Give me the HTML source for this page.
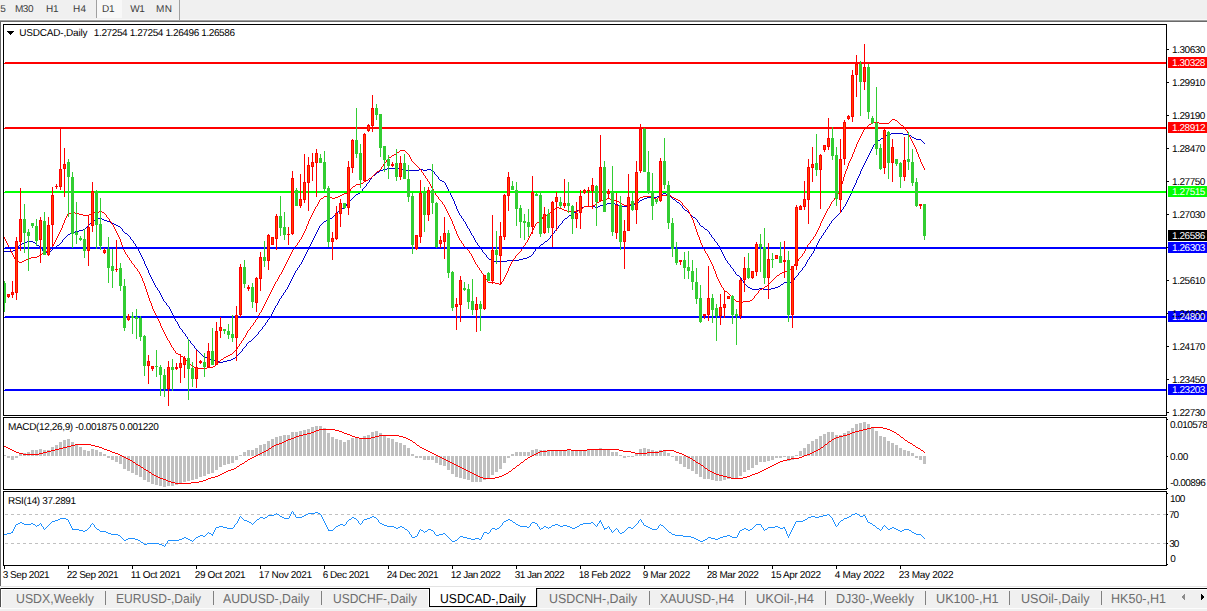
<!DOCTYPE html>
<html><head><meta charset="utf-8"><title>USDCAD-,Daily</title>
<style>
html,body{margin:0;padding:0;background:#fff;}
body{width:1207px;height:611px;position:relative;overflow:hidden;font-family:"Liberation Sans",sans-serif;text-rendering:geometricPrecision;}
.t{position:absolute;font-size:10px;line-height:12px;color:#000;white-space:pre;}
.w{color:#fff;}
.tb{position:absolute;font-size:10px;line-height:12px;color:#3c3c3c;white-space:pre;}
.tab{position:absolute;font-size:13px;line-height:15px;color:#6d6d6d;white-space:pre;}
.sep{position:absolute;top:591px;width:1px;height:14px;background:#808080;}
</style></head><body>
<div style="position:absolute;left:0;top:0;width:1207px;height:20px;background:#f0f0f0"></div>
<div style="position:absolute;left:0;top:20px;width:1207px;height:1px;background:#a0a0a0"></div>
<div style="position:absolute;left:0;top:21px;width:1207px;height:1px;background:#696969"></div>
<div style="position:absolute;left:0;top:19px;width:1207px;height:1px;background:#f8f8f8"></div>
<div style="position:absolute;left:0;top:22px;width:1px;height:564px;background:#696969"></div>
<div style="position:absolute;left:96px;top:0;width:26px;height:18px;background:#f8f8f8;border-left:1px solid #a0a0a0;box-sizing:border-box"></div>
<div style="position:absolute;left:179px;top:0;width:1px;height:20px;background:#a0a0a0"></div>
<div class="tb" style="left:0.30px;top:4px;letter-spacing:0.000px;">5</div>
<div class="tb" style="left:14.88px;top:4px;letter-spacing:-0.421px;">M30</div>
<div class="tb" style="left:45.98px;top:4px;letter-spacing:-0.275px;">H1</div>
<div class="tb" style="left:72.88px;top:4px;letter-spacing:0.430px;">H4</div>
<div class="tb" style="left:101.98px;top:4px;letter-spacing:-0.275px;">D1</div>
<div class="tb" style="left:130.16px;top:4px;letter-spacing:-0.368px;">W1</div>
<div class="tb" style="left:155.88px;top:4px;letter-spacing:0.584px;">MN</div>
<svg width="1207" height="611" viewBox="0 0 1207 611" style="position:absolute;left:0;top:0" shape-rendering="crispEdges">
<defs><clipPath id="cm"><rect x="4" y="25" width="1162" height="390"/></clipPath></defs>
<g clip-path="url(#cm)">
<path d="M4 251h1v1h-1zM5 251h1v1h-1zM6 251h1v1h-1zM7 251h1v1h-1zM8 251h1v1h-1zM9 251h1v1h-1zM10 251h1v1h-1zM11 251h1v1h-1zM12 251h1v1h-1zM13 250h1v1h-1zM14 250h1v1h-1zM15 249h1v1h-1zM16 248h1v1h-1zM17 247h1v1h-1zM18 246h1v1h-1zM19 245h1v1h-1zM20 244h1v1h-1zM21 244h1v1h-1zM22 243h1v1h-1zM23 243h1v1h-1zM24 242h1v1h-1zM25 242h1v1h-1zM26 242h1v1h-1zM27 241h1v1h-1zM28 241h1v1h-1zM29 241h1v1h-1zM30 241h1v1h-1zM31 241h1v1h-1zM32 241h1v1h-1zM33 242h1v1h-1zM34 242h1v1h-1zM35 243h1v1h-1zM36 244h1v1h-1zM37 245h1v1h-1zM38 245h1v1h-1zM39 246h1v1h-1zM40 247h1v1h-1zM41 248h1v1h-1zM42 249h1v2h-1zM43 251h1v1h-1zM44 252h1v1h-1zM45 252h1v1h-1zM46 252h1v1h-1zM47 253h1v1h-1zM48 253h1v1h-1zM49 252h1v1h-1zM50 251h1v1h-1zM51 250h1v1h-1zM52 249h1v1h-1zM53 248h1v1h-1zM54 248h1v1h-1zM55 247h1v1h-1zM56 246h1v1h-1zM57 245h1v1h-1zM58 245h1v1h-1zM59 244h1v1h-1zM60 243h1v1h-1zM61 242h1v1h-1zM62 240h1v2h-1zM63 239h1v1h-1zM64 238h1v1h-1zM65 237h1v1h-1zM66 236h1v1h-1zM67 235h1v1h-1zM68 234h1v1h-1zM69 234h1v1h-1zM70 233h1v1h-1zM71 233h1v1h-1zM72 232h1v1h-1zM73 232h1v1h-1zM74 232h1v1h-1zM75 231h1v1h-1zM76 231h1v1h-1zM77 231h1v1h-1zM78 231h1v1h-1zM79 230h1v1h-1zM80 230h1v1h-1zM81 230h1v1h-1zM82 230h1v1h-1zM83 229h1v1h-1zM84 229h1v1h-1zM85 228h1v1h-1zM86 227h1v1h-1zM87 226h1v1h-1zM88 225h1v1h-1zM89 224h1v1h-1zM90 223h1v1h-1zM91 222h1v1h-1zM92 221h1v1h-1zM93 220h1v1h-1zM94 220h1v1h-1zM95 219h1v1h-1zM96 218h1v1h-1zM97 218h1v1h-1zM98 218h1v1h-1zM99 218h1v1h-1zM100 218h1v1h-1zM101 218h1v1h-1zM102 219h1v1h-1zM103 219h1v1h-1zM104 220h1v1h-1zM105 220h1v1h-1zM106 220h1v1h-1zM107 221h1v1h-1zM108 221h1v1h-1zM109 221h1v1h-1zM110 222h1v1h-1zM111 222h1v1h-1zM112 223h1v1h-1zM113 223h1v1h-1zM114 224h1v1h-1zM115 224h1v1h-1zM116 225h1v1h-1zM117 225h1v1h-1zM118 226h1v1h-1zM119 226h1v1h-1zM120 227h1v1h-1zM121 228h1v1h-1zM122 229h1v2h-1zM123 231h1v1h-1zM124 232h1v1h-1zM125 233h1v1h-1zM126 233h1v1h-1zM127 234h1v1h-1zM128 235h1v1h-1zM129 236h1v1h-1zM130 237h1v2h-1zM131 239h1v1h-1zM132 240h1v1h-1zM133 241h1v2h-1zM134 243h1v1h-1zM135 244h1v2h-1zM136 246h1v1h-1zM137 247h1v2h-1zM138 249h1v2h-1zM139 251h1v2h-1zM140 253h1v2h-1zM141 255h1v2h-1zM142 257h1v2h-1zM143 259h1v2h-1zM144 261h1v3h-1zM145 264h1v2h-1zM146 266h1v2h-1zM147 268h1v2h-1zM148 270h1v3h-1zM149 273h1v2h-1zM150 275h1v2h-1zM151 277h1v2h-1zM152 279h1v2h-1zM153 281h1v2h-1zM154 283h1v2h-1zM155 285h1v2h-1zM156 287h1v1h-1zM157 288h1v2h-1zM158 290h1v1h-1zM159 291h1v2h-1zM160 293h1v2h-1zM161 295h1v2h-1zM162 297h1v2h-1zM163 299h1v2h-1zM164 301h1v1h-1zM165 302h1v1h-1zM166 303h1v2h-1zM167 305h1v1h-1zM168 306h1v1h-1zM169 307h1v2h-1zM170 309h1v2h-1zM171 311h1v2h-1zM172 313h1v2h-1zM173 315h1v2h-1zM174 317h1v2h-1zM175 319h1v2h-1zM176 321h1v1h-1zM177 322h1v2h-1zM178 324h1v2h-1zM179 326h1v2h-1zM180 328h1v1h-1zM181 329h1v1h-1zM182 330h1v2h-1zM183 332h1v1h-1zM184 333h1v1h-1zM185 334h1v2h-1zM186 336h1v1h-1zM187 337h1v2h-1zM188 339h1v1h-1zM189 340h1v1h-1zM190 341h1v2h-1zM191 343h1v1h-1zM192 344h1v1h-1zM193 345h1v1h-1zM194 346h1v2h-1zM195 348h1v1h-1zM196 349h1v1h-1zM197 350h1v1h-1zM198 351h1v1h-1zM199 352h1v1h-1zM200 353h1v1h-1zM201 354h1v1h-1zM202 355h1v1h-1zM203 356h1v1h-1zM204 357h1v1h-1zM205 357h1v1h-1zM206 357h1v1h-1zM207 358h1v1h-1zM208 358h1v1h-1zM209 358h1v1h-1zM210 359h1v1h-1zM211 359h1v1h-1zM212 360h1v1h-1zM213 360h1v1h-1zM214 360h1v1h-1zM215 361h1v1h-1zM216 361h1v1h-1zM217 361h1v1h-1zM218 361h1v1h-1zM219 362h1v1h-1zM220 362h1v1h-1zM221 362h1v1h-1zM222 362h1v1h-1zM223 361h1v1h-1zM224 361h1v1h-1zM225 361h1v1h-1zM226 361h1v1h-1zM227 360h1v1h-1zM228 360h1v1h-1zM229 360h1v1h-1zM230 360h1v1h-1zM231 359h1v1h-1zM232 359h1v1h-1zM233 358h1v1h-1zM234 358h1v1h-1zM235 357h1v1h-1zM236 356h1v1h-1zM237 355h1v1h-1zM238 354h1v1h-1zM239 353h1v1h-1zM240 352h1v1h-1zM241 351h1v1h-1zM242 349h1v2h-1zM243 348h1v1h-1zM244 347h1v1h-1zM245 346h1v1h-1zM246 344h1v2h-1zM247 343h1v1h-1zM248 342h1v1h-1zM249 341h1v1h-1zM250 341h1v1h-1zM251 340h1v1h-1zM252 339h1v1h-1zM253 338h1v1h-1zM254 337h1v1h-1zM255 336h1v1h-1zM256 335h1v1h-1zM257 334h1v1h-1zM258 332h1v2h-1zM259 331h1v1h-1zM260 330h1v1h-1zM261 329h1v1h-1zM262 327h1v2h-1zM263 326h1v1h-1zM264 325h1v1h-1zM265 323h1v2h-1zM266 322h1v1h-1zM267 320h1v2h-1zM268 319h1v1h-1zM269 317h1v2h-1zM270 316h1v1h-1zM271 314h1v2h-1zM272 312h1v2h-1zM273 310h1v2h-1zM274 308h1v2h-1zM275 306h1v2h-1zM276 305h1v1h-1zM277 303h1v2h-1zM278 301h1v2h-1zM279 299h1v2h-1zM280 298h1v1h-1zM281 296h1v2h-1zM282 295h1v1h-1zM283 293h1v2h-1zM284 292h1v1h-1zM285 290h1v2h-1zM286 289h1v1h-1zM287 287h1v2h-1zM288 285h1v2h-1zM289 283h1v2h-1zM290 281h1v2h-1zM291 279h1v2h-1zM292 277h1v2h-1zM293 275h1v2h-1zM294 273h1v2h-1zM295 271h1v2h-1zM296 270h1v1h-1zM297 268h1v2h-1zM298 267h1v1h-1zM299 265h1v2h-1zM300 264h1v1h-1zM301 262h1v2h-1zM302 260h1v2h-1zM303 258h1v2h-1zM304 256h1v2h-1zM305 254h1v2h-1zM306 252h1v2h-1zM307 250h1v2h-1zM308 248h1v2h-1zM309 246h1v2h-1zM310 244h1v2h-1zM311 242h1v2h-1zM312 240h1v2h-1zM313 238h1v2h-1zM314 236h1v2h-1zM315 234h1v2h-1zM316 232h1v2h-1zM317 230h1v2h-1zM318 228h1v2h-1zM319 226h1v2h-1zM320 225h1v1h-1zM321 224h1v1h-1zM322 223h1v1h-1zM323 222h1v1h-1zM324 221h1v1h-1zM325 221h1v1h-1zM326 220h1v1h-1zM327 220h1v1h-1zM328 219h1v1h-1zM329 219h1v1h-1zM330 218h1v1h-1zM331 218h1v1h-1zM332 217h1v1h-1zM333 216h1v1h-1zM334 215h1v1h-1zM335 214h1v1h-1zM336 213h1v1h-1zM337 212h1v1h-1zM338 211h1v1h-1zM339 210h1v1h-1zM340 209h1v1h-1zM341 209h1v1h-1zM342 208h1v1h-1zM343 208h1v1h-1zM344 207h1v1h-1zM345 206h1v1h-1zM346 204h1v2h-1zM347 203h1v1h-1zM348 202h1v1h-1zM349 201h1v1h-1zM350 200h1v1h-1zM351 199h1v1h-1zM352 198h1v1h-1zM353 197h1v1h-1zM354 196h1v1h-1zM355 195h1v1h-1zM356 194h1v1h-1zM357 194h1v1h-1zM358 193h1v1h-1zM359 193h1v1h-1zM360 192h1v1h-1zM361 191h1v1h-1zM362 189h1v2h-1zM363 188h1v1h-1zM364 187h1v1h-1zM365 186h1v1h-1zM366 184h1v2h-1zM367 183h1v1h-1zM368 182h1v1h-1zM369 180h1v2h-1zM370 179h1v1h-1zM371 177h1v2h-1zM372 176h1v1h-1zM373 175h1v1h-1zM374 175h1v1h-1zM375 174h1v1h-1zM376 173h1v1h-1zM377 172h1v1h-1zM378 172h1v1h-1zM379 171h1v1h-1zM380 170h1v1h-1zM381 170h1v1h-1zM382 170h1v1h-1zM383 169h1v1h-1zM384 169h1v1h-1zM385 169h1v1h-1zM386 169h1v1h-1zM387 168h1v1h-1zM388 168h1v1h-1zM389 168h1v1h-1zM390 168h1v1h-1zM391 168h1v1h-1zM392 168h1v1h-1zM393 168h1v1h-1zM394 168h1v1h-1zM395 168h1v1h-1zM396 168h1v1h-1zM397 168h1v1h-1zM398 168h1v1h-1zM399 169h1v1h-1zM400 169h1v1h-1zM401 169h1v1h-1zM402 169h1v1h-1zM403 170h1v1h-1zM404 170h1v1h-1zM405 170h1v1h-1zM406 170h1v1h-1zM407 170h1v1h-1zM408 170h1v1h-1zM409 170h1v1h-1zM410 170h1v1h-1zM411 170h1v1h-1zM412 170h1v1h-1zM413 170h1v1h-1zM414 170h1v1h-1zM415 170h1v1h-1zM416 170h1v1h-1zM417 170h1v1h-1zM418 170h1v1h-1zM419 169h1v1h-1zM420 169h1v1h-1zM421 169h1v1h-1zM422 169h1v1h-1zM423 170h1v1h-1zM424 170h1v1h-1zM425 170h1v1h-1zM426 170h1v1h-1zM427 169h1v1h-1zM428 169h1v1h-1zM429 169h1v1h-1zM430 169h1v1h-1zM431 170h1v1h-1zM432 170h1v1h-1zM433 171h1v1h-1zM434 172h1v2h-1zM435 174h1v1h-1zM436 175h1v1h-1zM437 176h1v1h-1zM438 177h1v2h-1zM439 179h1v1h-1zM440 180h1v1h-1zM441 180h1v1h-1zM442 181h1v1h-1zM443 181h1v1h-1zM444 182h1v1h-1zM445 183h1v2h-1zM446 185h1v2h-1zM447 187h1v2h-1zM448 189h1v2h-1zM449 191h1v2h-1zM450 193h1v2h-1zM451 195h1v2h-1zM452 197h1v2h-1zM453 199h1v2h-1zM454 201h1v3h-1zM455 204h1v2h-1zM456 206h1v3h-1zM457 209h1v2h-1zM458 211h1v2h-1zM459 213h1v2h-1zM460 215h1v1h-1zM461 216h1v2h-1zM462 218h1v1h-1zM463 219h1v2h-1zM464 221h1v1h-1zM465 222h1v2h-1zM466 224h1v2h-1zM467 226h1v2h-1zM468 228h1v1h-1zM469 229h1v2h-1zM470 231h1v2h-1zM471 233h1v2h-1zM472 235h1v1h-1zM473 236h1v2h-1zM474 238h1v2h-1zM475 240h1v2h-1zM476 242h1v1h-1zM477 243h1v2h-1zM478 245h1v1h-1zM479 246h1v2h-1zM480 248h1v1h-1zM481 249h1v1h-1zM482 250h1v2h-1zM483 252h1v1h-1zM484 253h1v1h-1zM485 254h1v1h-1zM486 255h1v2h-1zM487 257h1v1h-1zM488 258h1v1h-1zM489 259h1v1h-1zM490 259h1v1h-1zM491 260h1v1h-1zM492 261h1v1h-1zM493 261h1v1h-1zM494 261h1v1h-1zM495 261h1v1h-1zM496 261h1v1h-1zM497 261h1v1h-1zM498 261h1v1h-1zM499 261h1v1h-1zM500 261h1v1h-1zM501 261h1v1h-1zM502 261h1v1h-1zM503 261h1v1h-1zM504 261h1v1h-1zM505 261h1v1h-1zM506 261h1v1h-1zM507 260h1v1h-1zM508 260h1v1h-1zM509 260h1v1h-1zM510 260h1v1h-1zM511 260h1v1h-1zM512 260h1v1h-1zM513 260h1v1h-1zM514 260h1v1h-1zM515 260h1v1h-1zM516 260h1v1h-1zM517 260h1v1h-1zM518 260h1v1h-1zM519 259h1v1h-1zM520 259h1v1h-1zM521 259h1v1h-1zM522 259h1v1h-1zM523 258h1v1h-1zM524 258h1v1h-1zM525 258h1v1h-1zM526 258h1v1h-1zM527 257h1v1h-1zM528 257h1v1h-1zM529 256h1v1h-1zM530 256h1v1h-1zM531 255h1v1h-1zM532 254h1v1h-1zM533 252h1v2h-1zM534 251h1v1h-1zM535 249h1v2h-1zM536 248h1v1h-1zM537 247h1v1h-1zM538 247h1v1h-1zM539 246h1v1h-1zM540 245h1v1h-1zM541 244h1v1h-1zM542 244h1v1h-1zM543 243h1v1h-1zM544 242h1v1h-1zM545 241h1v1h-1zM546 241h1v1h-1zM547 240h1v1h-1zM548 239h1v1h-1zM549 238h1v1h-1zM550 236h1v2h-1zM551 235h1v1h-1zM552 234h1v1h-1zM553 233h1v1h-1zM554 231h1v2h-1zM555 230h1v1h-1zM556 229h1v1h-1zM557 228h1v1h-1zM558 226h1v2h-1zM559 225h1v1h-1zM560 224h1v1h-1zM561 223h1v1h-1zM562 221h1v2h-1zM563 220h1v1h-1zM564 219h1v1h-1zM565 218h1v1h-1zM566 218h1v1h-1zM567 217h1v1h-1zM568 216h1v1h-1zM569 215h1v1h-1zM570 215h1v1h-1zM571 214h1v1h-1zM572 213h1v1h-1zM573 213h1v1h-1zM574 212h1v1h-1zM575 212h1v1h-1zM576 211h1v1h-1zM577 210h1v1h-1zM578 210h1v1h-1zM579 209h1v1h-1zM580 208h1v1h-1zM581 208h1v1h-1zM582 207h1v1h-1zM583 207h1v1h-1zM584 206h1v1h-1zM585 206h1v1h-1zM586 206h1v1h-1zM587 206h1v1h-1zM588 206h1v1h-1zM589 206h1v1h-1zM590 206h1v1h-1zM591 206h1v1h-1zM592 206h1v1h-1zM593 206h1v1h-1zM594 206h1v1h-1zM595 207h1v1h-1zM596 207h1v1h-1zM597 207h1v1h-1zM598 206h1v1h-1zM599 206h1v1h-1zM600 205h1v1h-1zM601 205h1v1h-1zM602 205h1v1h-1zM603 204h1v1h-1zM604 204h1v1h-1zM605 204h1v1h-1zM606 204h1v1h-1zM607 203h1v1h-1zM608 203h1v1h-1zM609 203h1v1h-1zM610 203h1v1h-1zM611 203h1v1h-1zM612 203h1v1h-1zM613 203h1v1h-1zM614 203h1v1h-1zM615 204h1v1h-1zM616 204h1v1h-1zM617 204h1v1h-1zM618 205h1v1h-1zM619 205h1v1h-1zM620 206h1v1h-1zM621 206h1v1h-1zM622 206h1v1h-1zM623 206h1v1h-1zM624 206h1v1h-1zM625 206h1v1h-1zM626 206h1v1h-1zM627 205h1v1h-1zM628 205h1v1h-1zM629 205h1v1h-1zM630 205h1v1h-1zM631 204h1v1h-1zM632 204h1v1h-1zM633 204h1v1h-1zM634 204h1v1h-1zM635 203h1v1h-1zM636 203h1v1h-1zM637 202h1v1h-1zM638 202h1v1h-1zM639 201h1v1h-1zM640 200h1v1h-1zM641 200h1v1h-1zM642 199h1v1h-1zM643 199h1v1h-1zM644 198h1v1h-1zM645 198h1v1h-1zM646 198h1v1h-1zM647 197h1v1h-1zM648 197h1v1h-1zM649 197h1v1h-1zM650 197h1v1h-1zM651 197h1v1h-1zM652 197h1v1h-1zM653 197h1v1h-1zM654 197h1v1h-1zM655 197h1v1h-1zM656 197h1v1h-1zM657 196h1v1h-1zM658 196h1v1h-1zM659 195h1v1h-1zM660 194h1v1h-1zM661 194h1v1h-1zM662 194h1v1h-1zM663 193h1v1h-1zM664 193h1v1h-1zM665 193h1v1h-1zM666 194h1v1h-1zM667 194h1v1h-1zM668 195h1v1h-1zM669 196h1v1h-1zM670 196h1v1h-1zM671 197h1v1h-1zM672 198h1v1h-1zM673 199h1v1h-1zM674 199h1v1h-1zM675 200h1v1h-1zM676 201h1v1h-1zM677 202h1v1h-1zM678 202h1v1h-1zM679 203h1v1h-1zM680 204h1v1h-1zM681 205h1v1h-1zM682 206h1v2h-1zM683 208h1v1h-1zM684 209h1v1h-1zM685 210h1v1h-1zM686 210h1v1h-1zM687 211h1v1h-1zM688 212h1v1h-1zM689 213h1v1h-1zM690 214h1v1h-1zM691 215h1v1h-1zM692 216h1v1h-1zM693 217h1v1h-1zM694 217h1v1h-1zM695 218h1v1h-1zM696 219h1v1h-1zM697 220h1v2h-1zM698 222h1v1h-1zM699 223h1v2h-1zM700 225h1v1h-1zM701 226h1v1h-1zM702 226h1v1h-1zM703 227h1v1h-1zM704 228h1v1h-1zM705 229h1v1h-1zM706 229h1v1h-1zM707 230h1v1h-1zM708 231h1v1h-1zM709 232h1v2h-1zM710 234h1v1h-1zM711 235h1v2h-1zM712 237h1v1h-1zM713 238h1v1h-1zM714 239h1v2h-1zM715 241h1v1h-1zM716 242h1v1h-1zM717 243h1v2h-1zM718 245h1v1h-1zM719 246h1v2h-1zM720 248h1v2h-1zM721 250h1v2h-1zM722 252h1v2h-1zM723 254h1v2h-1zM724 256h1v2h-1zM725 258h1v2h-1zM726 260h1v1h-1zM727 261h1v2h-1zM728 263h1v1h-1zM729 264h1v1h-1zM730 265h1v2h-1zM731 267h1v1h-1zM732 268h1v1h-1zM733 269h1v2h-1zM734 271h1v1h-1zM735 272h1v2h-1zM736 274h1v1h-1zM737 275h1v1h-1zM738 275h1v1h-1zM739 276h1v1h-1zM740 277h1v1h-1zM741 278h1v2h-1zM742 280h1v1h-1zM743 281h1v2h-1zM744 283h1v1h-1zM745 284h1v1h-1zM746 285h1v1h-1zM747 286h1v1h-1zM748 287h1v1h-1zM749 287h1v1h-1zM750 288h1v1h-1zM751 288h1v1h-1zM752 289h1v1h-1zM753 289h1v1h-1zM754 289h1v1h-1zM755 289h1v1h-1zM756 289h1v1h-1zM757 289h1v1h-1zM758 289h1v1h-1zM759 288h1v1h-1zM760 288h1v1h-1zM761 288h1v1h-1zM762 288h1v1h-1zM763 289h1v1h-1zM764 289h1v1h-1zM765 289h1v1h-1zM766 289h1v1h-1zM767 289h1v1h-1zM768 289h1v1h-1zM769 289h1v1h-1zM770 289h1v1h-1zM771 288h1v1h-1zM772 288h1v1h-1zM773 288h1v1h-1zM774 288h1v1h-1zM775 287h1v1h-1zM776 287h1v1h-1zM777 287h1v1h-1zM778 286h1v1h-1zM779 286h1v1h-1zM780 285h1v1h-1zM781 284h1v1h-1zM782 284h1v1h-1zM783 283h1v1h-1zM784 282h1v1h-1zM785 282h1v1h-1zM786 282h1v1h-1zM787 282h1v1h-1zM788 282h1v1h-1zM789 282h1v1h-1zM790 282h1v1h-1zM791 281h1v1h-1zM792 281h1v1h-1zM793 280h1v1h-1zM794 278h1v2h-1zM795 277h1v1h-1zM796 276h1v1h-1zM797 275h1v1h-1zM798 273h1v2h-1zM799 272h1v1h-1zM800 271h1v1h-1zM801 270h1v1h-1zM802 268h1v2h-1zM803 267h1v1h-1zM804 266h1v1h-1zM805 264h1v2h-1zM806 262h1v2h-1zM807 260h1v2h-1zM808 259h1v1h-1zM809 257h1v2h-1zM810 256h1v1h-1zM811 254h1v2h-1zM812 253h1v1h-1zM813 251h1v2h-1zM814 249h1v2h-1zM815 247h1v2h-1zM816 245h1v2h-1zM817 243h1v2h-1zM818 241h1v2h-1zM819 239h1v2h-1zM820 238h1v1h-1zM821 236h1v2h-1zM822 235h1v1h-1zM823 233h1v2h-1zM824 232h1v1h-1zM825 230h1v2h-1zM826 229h1v1h-1zM827 227h1v2h-1zM828 226h1v1h-1zM829 224h1v2h-1zM830 223h1v1h-1zM831 221h1v2h-1zM832 220h1v1h-1zM833 219h1v1h-1zM834 218h1v1h-1zM835 217h1v1h-1zM836 216h1v1h-1zM837 215h1v1h-1zM838 214h1v1h-1zM839 213h1v1h-1zM840 212h1v1h-1zM841 210h1v2h-1zM842 209h1v1h-1zM843 207h1v2h-1zM844 206h1v1h-1zM845 204h1v2h-1zM846 202h1v2h-1zM847 200h1v2h-1zM848 198h1v2h-1zM849 196h1v2h-1zM850 194h1v2h-1zM851 192h1v2h-1zM852 189h1v3h-1zM853 187h1v2h-1zM854 185h1v2h-1zM855 183h1v2h-1zM856 180h1v3h-1zM857 178h1v2h-1zM858 176h1v2h-1zM859 174h1v2h-1zM860 171h1v3h-1zM861 169h1v2h-1zM862 167h1v2h-1zM863 165h1v2h-1zM864 163h1v2h-1zM865 161h1v2h-1zM866 159h1v2h-1zM867 157h1v2h-1zM868 155h1v2h-1zM869 153h1v2h-1zM870 151h1v2h-1zM871 149h1v2h-1zM872 147h1v2h-1zM873 145h1v2h-1zM874 144h1v1h-1zM875 142h1v2h-1zM876 141h1v1h-1zM877 141h1v1h-1zM878 140h1v1h-1zM879 140h1v1h-1zM880 139h1v1h-1zM881 138h1v1h-1zM882 138h1v1h-1zM883 137h1v1h-1zM884 136h1v1h-1zM885 136h1v1h-1zM886 135h1v1h-1zM887 135h1v1h-1zM888 134h1v1h-1zM889 134h1v1h-1zM890 134h1v1h-1zM891 133h1v1h-1zM892 133h1v1h-1zM893 133h1v1h-1zM894 133h1v1h-1zM895 133h1v1h-1zM896 133h1v1h-1zM897 133h1v1h-1zM898 133h1v1h-1zM899 133h1v1h-1zM900 133h1v1h-1zM901 133h1v1h-1zM902 133h1v1h-1zM903 134h1v1h-1zM904 134h1v1h-1zM905 134h1v1h-1zM906 134h1v1h-1zM907 134h1v1h-1zM908 134h1v1h-1zM909 135h1v1h-1zM910 135h1v1h-1zM911 136h1v1h-1zM912 137h1v1h-1zM913 137h1v1h-1zM914 138h1v1h-1zM915 138h1v1h-1zM916 139h1v1h-1zM917 139h1v1h-1zM918 139h1v1h-1zM919 139h1v1h-1zM920 139h1v1h-1zM921 140h1v1h-1zM922 141h1v1h-1zM923 142h1v1h-1zM924 143h1v1h-1z" fill="#0000cd" />
<path d="M4 237h1v2h-1zM5 239h1v2h-1zM6 241h1v2h-1zM7 243h1v2h-1zM8 245h1v2h-1zM9 247h1v2h-1zM10 249h1v2h-1zM11 251h1v2h-1zM12 253h1v2h-1zM13 255h1v2h-1zM14 257h1v2h-1zM15 259h1v2h-1zM16 261h1v1h-1zM17 261h1v1h-1zM18 261h1v1h-1zM19 262h1v1h-1zM20 262h1v1h-1zM21 262h1v1h-1zM22 261h1v1h-1zM23 261h1v1h-1zM24 260h1v1h-1zM25 260h1v1h-1zM26 259h1v1h-1zM27 259h1v1h-1zM28 258h1v1h-1zM29 258h1v1h-1zM30 258h1v1h-1zM31 257h1v1h-1zM32 257h1v1h-1zM33 257h1v1h-1zM34 257h1v1h-1zM35 257h1v1h-1zM36 257h1v1h-1zM37 256h1v1h-1zM38 256h1v1h-1zM39 255h1v1h-1zM40 254h1v1h-1zM41 254h1v1h-1zM42 253h1v1h-1zM43 253h1v1h-1zM44 252h1v1h-1zM45 252h1v1h-1zM46 251h1v1h-1zM47 251h1v1h-1zM48 250h1v1h-1zM49 249h1v1h-1zM50 249h1v1h-1zM51 248h1v1h-1zM52 246h1v2h-1zM53 244h1v2h-1zM54 242h1v2h-1zM55 240h1v2h-1zM56 238h1v2h-1zM57 236h1v2h-1zM58 234h1v2h-1zM59 232h1v2h-1zM60 230h1v2h-1zM61 228h1v2h-1zM62 225h1v3h-1zM63 223h1v2h-1zM64 220h1v3h-1zM65 218h1v2h-1zM66 216h1v2h-1zM67 214h1v2h-1zM68 213h1v1h-1zM69 213h1v1h-1zM70 213h1v1h-1zM71 212h1v1h-1zM72 212h1v1h-1zM73 212h1v1h-1zM74 212h1v1h-1zM75 213h1v1h-1zM76 213h1v1h-1zM77 213h1v1h-1zM78 213h1v1h-1zM79 214h1v1h-1zM80 214h1v1h-1zM81 214h1v1h-1zM82 214h1v1h-1zM83 215h1v1h-1zM84 215h1v1h-1zM85 215h1v1h-1zM86 215h1v1h-1zM87 215h1v1h-1zM88 215h1v1h-1zM89 214h1v1h-1zM90 214h1v1h-1zM91 213h1v1h-1zM92 212h1v1h-1zM93 212h1v1h-1zM94 212h1v1h-1zM95 212h1v1h-1zM96 212h1v1h-1zM97 212h1v1h-1zM98 212h1v1h-1zM99 211h1v1h-1zM100 211h1v1h-1zM101 211h1v1h-1zM102 212h1v1h-1zM103 212h1v1h-1zM104 213h1v1h-1zM105 214h1v1h-1zM106 215h1v2h-1zM107 217h1v1h-1zM108 218h1v1h-1zM109 219h1v2h-1zM110 221h1v1h-1zM111 222h1v2h-1zM112 224h1v1h-1zM113 225h1v2h-1zM114 227h1v2h-1zM115 229h1v2h-1zM116 231h1v2h-1zM117 233h1v2h-1zM118 235h1v2h-1zM119 237h1v2h-1zM120 239h1v3h-1zM121 242h1v3h-1zM122 245h1v2h-1zM123 247h1v3h-1zM124 250h1v2h-1zM125 252h1v2h-1zM126 254h1v1h-1zM127 255h1v2h-1zM128 257h1v1h-1zM129 258h1v2h-1zM130 260h1v1h-1zM131 261h1v2h-1zM132 263h1v1h-1zM133 264h1v1h-1zM134 265h1v2h-1zM135 267h1v1h-1zM136 268h1v1h-1zM137 269h1v2h-1zM138 271h1v1h-1zM139 272h1v2h-1zM140 274h1v2h-1zM141 276h1v2h-1zM142 278h1v3h-1zM143 281h1v2h-1zM144 283h1v3h-1zM145 286h1v3h-1zM146 289h1v3h-1zM147 292h1v3h-1zM148 295h1v3h-1zM149 298h1v3h-1zM150 301h1v2h-1zM151 303h1v3h-1zM152 306h1v3h-1zM153 309h1v2h-1zM154 311h1v2h-1zM155 313h1v2h-1zM156 315h1v2h-1zM157 317h1v2h-1zM158 319h1v2h-1zM159 321h1v2h-1zM160 323h1v3h-1zM161 326h1v2h-1zM162 328h1v2h-1zM163 330h1v2h-1zM164 332h1v2h-1zM165 334h1v2h-1zM166 336h1v2h-1zM167 338h1v2h-1zM168 340h1v1h-1zM169 341h1v2h-1zM170 343h1v2h-1zM171 345h1v2h-1zM172 347h1v1h-1zM173 348h1v2h-1zM174 350h1v1h-1zM175 351h1v2h-1zM176 353h1v1h-1zM177 353h1v1h-1zM178 354h1v1h-1zM179 354h1v1h-1zM180 355h1v1h-1zM181 356h1v1h-1zM182 356h1v1h-1zM183 357h1v1h-1zM184 358h1v1h-1zM185 359h1v1h-1zM186 360h1v1h-1zM187 361h1v1h-1zM188 362h1v1h-1zM189 363h1v1h-1zM190 364h1v1h-1zM191 365h1v1h-1zM192 366h1v1h-1zM193 366h1v1h-1zM194 367h1v1h-1zM195 367h1v1h-1zM196 368h1v1h-1zM197 368h1v1h-1zM198 368h1v1h-1zM199 368h1v1h-1zM200 368h1v1h-1zM201 368h1v1h-1zM202 368h1v1h-1zM203 368h1v1h-1zM204 368h1v1h-1zM205 368h1v1h-1zM206 368h1v1h-1zM207 367h1v1h-1zM208 367h1v1h-1zM209 367h1v1h-1zM210 367h1v1h-1zM211 367h1v1h-1zM212 367h1v1h-1zM213 366h1v1h-1zM214 366h1v1h-1zM215 365h1v1h-1zM216 364h1v1h-1zM217 363h1v1h-1zM218 362h1v1h-1zM219 361h1v1h-1zM220 360h1v1h-1zM221 359h1v1h-1zM222 359h1v1h-1zM223 358h1v1h-1zM224 357h1v1h-1zM225 357h1v1h-1zM226 356h1v1h-1zM227 356h1v1h-1zM228 355h1v1h-1zM229 355h1v1h-1zM230 354h1v1h-1zM231 354h1v1h-1zM232 353h1v1h-1zM233 352h1v1h-1zM234 351h1v1h-1zM235 350h1v1h-1zM236 349h1v1h-1zM237 347h1v2h-1zM238 346h1v1h-1zM239 344h1v2h-1zM240 343h1v1h-1zM241 341h1v2h-1zM242 340h1v1h-1zM243 338h1v2h-1zM244 337h1v1h-1zM245 335h1v2h-1zM246 333h1v2h-1zM247 331h1v2h-1zM248 330h1v1h-1zM249 329h1v1h-1zM250 327h1v2h-1zM251 326h1v1h-1zM252 325h1v1h-1zM253 323h1v2h-1zM254 322h1v1h-1zM255 320h1v2h-1zM256 319h1v1h-1zM257 317h1v2h-1zM258 315h1v2h-1zM259 313h1v2h-1zM260 312h1v1h-1zM261 310h1v2h-1zM262 308h1v2h-1zM263 306h1v2h-1zM264 304h1v2h-1zM265 302h1v2h-1zM266 300h1v2h-1zM267 298h1v2h-1zM268 296h1v2h-1zM269 294h1v2h-1zM270 292h1v2h-1zM271 290h1v2h-1zM272 288h1v2h-1zM273 286h1v2h-1zM274 284h1v2h-1zM275 282h1v2h-1zM276 281h1v1h-1zM277 279h1v2h-1zM278 277h1v2h-1zM279 275h1v2h-1zM280 274h1v1h-1zM281 272h1v2h-1zM282 270h1v2h-1zM283 268h1v2h-1zM284 266h1v2h-1zM285 264h1v2h-1zM286 262h1v2h-1zM287 260h1v2h-1zM288 258h1v2h-1zM289 256h1v2h-1zM290 254h1v2h-1zM291 252h1v2h-1zM292 250h1v2h-1zM293 249h1v1h-1zM294 247h1v2h-1zM295 246h1v1h-1zM296 245h1v1h-1zM297 243h1v2h-1zM298 242h1v1h-1zM299 240h1v2h-1zM300 239h1v1h-1zM301 237h1v2h-1zM302 235h1v2h-1zM303 233h1v2h-1zM304 231h1v2h-1zM305 229h1v2h-1zM306 226h1v3h-1zM307 224h1v2h-1zM308 221h1v3h-1zM309 219h1v2h-1zM310 217h1v2h-1zM311 215h1v2h-1zM312 213h1v2h-1zM313 211h1v2h-1zM314 209h1v2h-1zM315 207h1v2h-1zM316 206h1v1h-1zM317 204h1v2h-1zM318 202h1v2h-1zM319 200h1v2h-1zM320 199h1v1h-1zM321 198h1v1h-1zM322 198h1v1h-1zM323 197h1v1h-1zM324 196h1v1h-1zM325 196h1v1h-1zM326 196h1v1h-1zM327 196h1v1h-1zM328 196h1v1h-1zM329 196h1v1h-1zM330 197h1v1h-1zM331 197h1v1h-1zM332 198h1v1h-1zM333 198h1v1h-1zM334 198h1v1h-1zM335 197h1v1h-1zM336 197h1v1h-1zM337 197h1v1h-1zM338 196h1v1h-1zM339 196h1v1h-1zM340 195h1v1h-1zM341 195h1v1h-1zM342 194h1v1h-1zM343 194h1v1h-1zM344 193h1v1h-1zM345 193h1v1h-1zM346 193h1v1h-1zM347 192h1v1h-1zM348 192h1v1h-1zM349 191h1v1h-1zM350 189h1v2h-1zM351 188h1v1h-1zM352 187h1v1h-1zM353 186h1v1h-1zM354 186h1v1h-1zM355 185h1v1h-1zM356 184h1v1h-1zM357 184h1v1h-1zM358 184h1v1h-1zM359 184h1v1h-1zM360 184h1v1h-1zM361 183h1v1h-1zM362 183h1v1h-1zM363 182h1v1h-1zM364 181h1v1h-1zM365 181h1v1h-1zM366 180h1v1h-1zM367 180h1v1h-1zM368 179h1v1h-1zM369 178h1v1h-1zM370 178h1v1h-1zM371 177h1v1h-1zM372 176h1v1h-1zM373 175h1v1h-1zM374 174h1v1h-1zM375 173h1v1h-1zM376 172h1v1h-1zM377 171h1v1h-1zM378 171h1v1h-1zM379 170h1v1h-1zM380 169h1v1h-1zM381 167h1v2h-1zM382 166h1v1h-1zM383 164h1v2h-1zM384 163h1v1h-1zM385 162h1v1h-1zM386 160h1v2h-1zM387 159h1v1h-1zM388 158h1v1h-1zM389 157h1v1h-1zM390 157h1v1h-1zM391 156h1v1h-1zM392 155h1v1h-1zM393 155h1v1h-1zM394 154h1v1h-1zM395 154h1v1h-1zM396 153h1v1h-1zM397 152h1v1h-1zM398 152h1v1h-1zM399 151h1v1h-1zM400 150h1v1h-1zM401 150h1v1h-1zM402 150h1v1h-1zM403 150h1v1h-1zM404 150h1v1h-1zM405 151h1v1h-1zM406 152h1v1h-1zM407 153h1v1h-1zM408 154h1v1h-1zM409 155h1v2h-1zM410 157h1v2h-1zM411 159h1v2h-1zM412 161h1v1h-1zM413 162h1v1h-1zM414 163h1v1h-1zM415 164h1v1h-1zM416 165h1v1h-1zM417 166h1v1h-1zM418 167h1v1h-1zM419 168h1v1h-1zM420 169h1v1h-1zM421 170h1v2h-1zM422 172h1v1h-1zM423 173h1v2h-1zM424 175h1v1h-1zM425 176h1v2h-1zM426 178h1v1h-1zM427 179h1v2h-1zM428 181h1v1h-1zM429 182h1v2h-1zM430 184h1v2h-1zM431 186h1v2h-1zM432 188h1v1h-1zM433 189h1v2h-1zM434 191h1v2h-1zM435 193h1v2h-1zM436 195h1v1h-1zM437 196h1v1h-1zM438 197h1v2h-1zM439 199h1v1h-1zM440 200h1v1h-1zM441 201h1v1h-1zM442 202h1v2h-1zM443 204h1v1h-1zM444 205h1v2h-1zM445 207h1v2h-1zM446 209h1v2h-1zM447 211h1v2h-1zM448 213h1v2h-1zM449 215h1v2h-1zM450 217h1v2h-1zM451 219h1v2h-1zM452 221h1v3h-1zM453 224h1v2h-1zM454 226h1v3h-1zM455 229h1v2h-1zM456 231h1v3h-1zM457 234h1v2h-1zM458 236h1v2h-1zM459 238h1v2h-1zM460 240h1v1h-1zM461 241h1v2h-1zM462 243h1v1h-1zM463 244h1v2h-1zM464 246h1v1h-1zM465 247h1v1h-1zM466 248h1v1h-1zM467 249h1v1h-1zM468 250h1v1h-1zM469 251h1v2h-1zM470 253h1v1h-1zM471 254h1v2h-1zM472 256h1v2h-1zM473 258h1v2h-1zM474 260h1v2h-1zM475 262h1v2h-1zM476 264h1v1h-1zM477 265h1v2h-1zM478 267h1v1h-1zM479 268h1v2h-1zM480 270h1v1h-1zM481 271h1v2h-1zM482 273h1v1h-1zM483 274h1v2h-1zM484 276h1v1h-1zM485 277h1v2h-1zM486 279h1v1h-1zM487 280h1v2h-1zM488 282h1v1h-1zM489 282h1v1h-1zM490 282h1v1h-1zM491 282h1v1h-1zM492 282h1v1h-1zM493 282h1v1h-1zM494 282h1v1h-1zM495 283h1v1h-1zM496 283h1v1h-1zM497 283h1v1h-1zM498 283h1v1h-1zM499 284h1v1h-1zM500 284h1v1h-1zM501 282h1v2h-1zM502 281h1v1h-1zM503 279h1v2h-1zM504 277h1v2h-1zM505 275h1v2h-1zM506 273h1v2h-1zM507 271h1v2h-1zM508 268h1v3h-1zM509 266h1v2h-1zM510 264h1v2h-1zM511 262h1v2h-1zM512 261h1v1h-1zM513 259h1v2h-1zM514 258h1v1h-1zM515 256h1v2h-1zM516 255h1v1h-1zM517 254h1v1h-1zM518 253h1v1h-1zM519 252h1v1h-1zM520 251h1v1h-1zM521 249h1v2h-1zM522 248h1v1h-1zM523 246h1v2h-1zM524 245h1v1h-1zM525 243h1v2h-1zM526 242h1v1h-1zM527 240h1v2h-1zM528 238h1v2h-1zM529 236h1v2h-1zM530 234h1v2h-1zM531 232h1v2h-1zM532 230h1v2h-1zM533 228h1v2h-1zM534 226h1v2h-1zM535 224h1v2h-1zM536 223h1v1h-1zM537 222h1v1h-1zM538 222h1v1h-1zM539 221h1v1h-1zM540 220h1v1h-1zM541 219h1v1h-1zM542 217h1v2h-1zM543 216h1v1h-1zM544 215h1v1h-1zM545 215h1v1h-1zM546 215h1v1h-1zM547 214h1v1h-1zM548 214h1v1h-1zM549 213h1v1h-1zM550 212h1v1h-1zM551 211h1v1h-1zM552 210h1v1h-1zM553 209h1v1h-1zM554 209h1v1h-1zM555 208h1v1h-1zM556 207h1v1h-1zM557 207h1v1h-1zM558 207h1v1h-1zM559 208h1v1h-1zM560 208h1v1h-1zM561 208h1v1h-1zM562 209h1v1h-1zM563 209h1v1h-1zM564 210h1v1h-1zM565 210h1v1h-1zM566 210h1v1h-1zM567 211h1v1h-1zM568 211h1v1h-1zM569 211h1v1h-1zM570 211h1v1h-1zM571 211h1v1h-1zM572 211h1v1h-1zM573 211h1v1h-1zM574 211h1v1h-1zM575 211h1v1h-1zM576 211h1v1h-1zM577 211h1v1h-1zM578 210h1v1h-1zM579 210h1v1h-1zM580 209h1v1h-1zM581 208h1v1h-1zM582 208h1v1h-1zM583 207h1v1h-1zM584 206h1v1h-1zM585 206h1v1h-1zM586 206h1v1h-1zM587 206h1v1h-1zM588 206h1v1h-1zM589 206h1v1h-1zM590 206h1v1h-1zM591 206h1v1h-1zM592 206h1v1h-1zM593 205h1v1h-1zM594 205h1v1h-1zM595 204h1v1h-1zM596 203h1v1h-1zM597 202h1v1h-1zM598 202h1v1h-1zM599 201h1v1h-1zM600 200h1v1h-1zM601 200h1v1h-1zM602 200h1v1h-1zM603 199h1v1h-1zM604 199h1v1h-1zM605 199h1v1h-1zM606 199h1v1h-1zM607 198h1v1h-1zM608 198h1v1h-1zM609 198h1v1h-1zM610 199h1v1h-1zM611 199h1v1h-1zM612 200h1v1h-1zM613 200h1v1h-1zM614 200h1v1h-1zM615 200h1v1h-1zM616 200h1v1h-1zM617 201h1v1h-1zM618 201h1v1h-1zM619 202h1v1h-1zM620 203h1v1h-1zM621 203h1v1h-1zM622 204h1v1h-1zM623 204h1v1h-1zM624 205h1v1h-1zM625 205h1v1h-1zM626 205h1v1h-1zM627 204h1v1h-1zM628 204h1v1h-1zM629 204h1v1h-1zM630 204h1v1h-1zM631 203h1v1h-1zM632 203h1v1h-1zM633 203h1v1h-1zM634 203h1v1h-1zM635 202h1v1h-1zM636 202h1v1h-1zM637 201h1v1h-1zM638 199h1v2h-1zM639 198h1v1h-1zM640 197h1v1h-1zM641 197h1v1h-1zM642 197h1v1h-1zM643 196h1v1h-1zM644 196h1v1h-1zM645 196h1v1h-1zM646 196h1v1h-1zM647 196h1v1h-1zM648 196h1v1h-1zM649 196h1v1h-1zM650 196h1v1h-1zM651 197h1v1h-1zM652 197h1v1h-1zM653 197h1v1h-1zM654 198h1v1h-1zM655 198h1v1h-1zM656 199h1v1h-1zM657 198h1v1h-1zM658 197h1v1h-1zM659 196h1v1h-1zM660 195h1v1h-1zM661 195h1v1h-1zM662 195h1v1h-1zM663 195h1v1h-1zM664 195h1v1h-1zM665 195h1v1h-1zM666 195h1v1h-1zM667 194h1v1h-1zM668 194h1v1h-1zM669 195h1v1h-1zM670 195h1v1h-1zM671 196h1v1h-1zM672 197h1v1h-1zM673 197h1v1h-1zM674 198h1v1h-1zM675 198h1v1h-1zM676 199h1v1h-1zM677 199h1v1h-1zM678 200h1v1h-1zM679 200h1v1h-1zM680 201h1v1h-1zM681 202h1v1h-1zM682 203h1v2h-1zM683 205h1v1h-1zM684 206h1v1h-1zM685 207h1v1h-1zM686 208h1v1h-1zM687 209h1v1h-1zM688 210h1v2h-1zM689 212h1v2h-1zM690 214h1v2h-1zM691 216h1v2h-1zM692 218h1v2h-1zM693 220h1v3h-1zM694 223h1v3h-1zM695 226h1v3h-1zM696 229h1v3h-1zM697 232h1v3h-1zM698 235h1v2h-1zM699 237h1v3h-1zM700 240h1v3h-1zM701 243h1v2h-1zM702 245h1v2h-1zM703 247h1v2h-1zM704 249h1v2h-1zM705 251h1v2h-1zM706 253h1v1h-1zM707 254h1v2h-1zM708 256h1v2h-1zM709 258h1v2h-1zM710 260h1v2h-1zM711 262h1v2h-1zM712 264h1v2h-1zM713 266h1v3h-1zM714 269h1v2h-1zM715 271h1v3h-1zM716 274h1v3h-1zM717 277h1v2h-1zM718 279h1v2h-1zM719 281h1v2h-1zM720 283h1v2h-1zM721 285h1v2h-1zM722 287h1v1h-1zM723 288h1v2h-1zM724 290h1v1h-1zM725 291h1v1h-1zM726 291h1v1h-1zM727 292h1v1h-1zM728 293h1v1h-1zM729 294h1v1h-1zM730 295h1v1h-1zM731 296h1v1h-1zM732 297h1v1h-1zM733 298h1v1h-1zM734 299h1v1h-1zM735 300h1v1h-1zM736 301h1v1h-1zM737 301h1v1h-1zM738 301h1v1h-1zM739 302h1v1h-1zM740 302h1v1h-1zM741 302h1v1h-1zM742 302h1v1h-1zM743 301h1v1h-1zM744 301h1v1h-1zM745 301h1v1h-1zM746 301h1v1h-1zM747 301h1v1h-1zM748 301h1v1h-1zM749 301h1v1h-1zM750 300h1v1h-1zM751 300h1v1h-1zM752 299h1v1h-1zM753 298h1v1h-1zM754 296h1v2h-1zM755 295h1v1h-1zM756 294h1v1h-1zM757 293h1v1h-1zM758 291h1v2h-1zM759 290h1v1h-1zM760 289h1v1h-1zM761 289h1v1h-1zM762 288h1v1h-1zM763 288h1v1h-1zM764 287h1v1h-1zM765 286h1v1h-1zM766 286h1v1h-1zM767 285h1v1h-1zM768 284h1v1h-1zM769 283h1v1h-1zM770 282h1v1h-1zM771 281h1v1h-1zM772 280h1v1h-1zM773 279h1v1h-1zM774 278h1v1h-1zM775 277h1v1h-1zM776 276h1v1h-1zM777 275h1v1h-1zM778 275h1v1h-1zM779 274h1v1h-1zM780 273h1v1h-1zM781 273h1v1h-1zM782 272h1v1h-1zM783 272h1v1h-1zM784 271h1v1h-1zM785 271h1v1h-1zM786 271h1v1h-1zM787 271h1v1h-1zM788 271h1v1h-1zM789 270h1v1h-1zM790 269h1v1h-1zM791 268h1v1h-1zM792 267h1v1h-1zM793 266h1v1h-1zM794 264h1v2h-1zM795 263h1v1h-1zM796 262h1v1h-1zM797 261h1v1h-1zM798 259h1v2h-1zM799 258h1v1h-1zM800 257h1v1h-1zM801 256h1v1h-1zM802 254h1v2h-1zM803 253h1v1h-1zM804 251h1v2h-1zM805 249h1v2h-1zM806 247h1v2h-1zM807 245h1v2h-1zM808 244h1v1h-1zM809 243h1v1h-1zM810 241h1v2h-1zM811 240h1v1h-1zM812 239h1v1h-1zM813 237h1v2h-1zM814 236h1v1h-1zM815 234h1v2h-1zM816 232h1v2h-1zM817 230h1v2h-1zM818 228h1v2h-1zM819 226h1v2h-1zM820 223h1v3h-1zM821 221h1v2h-1zM822 219h1v2h-1zM823 217h1v2h-1zM824 215h1v2h-1zM825 213h1v2h-1zM826 211h1v2h-1zM827 209h1v2h-1zM828 208h1v1h-1zM829 206h1v2h-1zM830 204h1v2h-1zM831 202h1v2h-1zM832 201h1v1h-1zM833 200h1v1h-1zM834 198h1v2h-1zM835 197h1v1h-1zM836 196h1v1h-1zM837 194h1v2h-1zM838 192h1v2h-1zM839 190h1v2h-1zM840 188h1v2h-1zM841 184h1v4h-1zM842 181h1v3h-1zM843 177h1v4h-1zM844 174h1v3h-1zM845 171h1v3h-1zM846 169h1v2h-1zM847 166h1v3h-1zM848 163h1v3h-1zM849 161h1v2h-1zM850 159h1v2h-1zM851 157h1v2h-1zM852 154h1v3h-1zM853 152h1v2h-1zM854 149h1v3h-1zM855 147h1v2h-1zM856 144h1v3h-1zM857 142h1v2h-1zM858 140h1v2h-1zM859 138h1v2h-1zM860 136h1v2h-1zM861 134h1v2h-1zM862 132h1v2h-1zM863 130h1v2h-1zM864 129h1v1h-1zM865 128h1v1h-1zM866 127h1v1h-1zM867 126h1v1h-1zM868 125h1v1h-1zM869 124h1v1h-1zM870 124h1v1h-1zM871 123h1v1h-1zM872 122h1v1h-1zM873 122h1v1h-1zM874 122h1v1h-1zM875 122h1v1h-1zM876 122h1v1h-1zM877 122h1v1h-1zM878 122h1v1h-1zM879 123h1v1h-1zM880 123h1v1h-1zM881 123h1v1h-1zM882 123h1v1h-1zM883 123h1v1h-1zM884 123h1v1h-1zM885 123h1v1h-1zM886 123h1v1h-1zM887 123h1v1h-1zM888 123h1v1h-1zM889 122h1v1h-1zM890 121h1v1h-1zM891 120h1v1h-1zM892 119h1v1h-1zM893 119h1v1h-1zM894 119h1v1h-1zM895 120h1v1h-1zM896 120h1v1h-1zM897 121h1v1h-1zM898 122h1v1h-1zM899 123h1v1h-1zM900 124h1v1h-1zM901 125h1v1h-1zM902 125h1v1h-1zM903 126h1v1h-1zM904 127h1v1h-1zM905 128h1v2h-1zM906 130h1v1h-1zM907 131h1v2h-1zM908 133h1v2h-1zM909 135h1v2h-1zM910 137h1v2h-1zM911 139h1v2h-1zM912 141h1v2h-1zM913 143h1v2h-1zM914 145h1v2h-1zM915 147h1v2h-1zM916 149h1v3h-1zM917 152h1v2h-1zM918 154h1v3h-1zM919 157h1v2h-1zM920 159h1v3h-1zM921 162h1v2h-1zM922 164h1v2h-1zM923 166h1v2h-1zM924 168h1v2h-1z" fill="#ff0000" />
</g>
<path d="M5 62h1161v2h-1162v-1h1z" fill="#ff0000"/>
<path d="M5 127h1161v2h-1162v-1h1z" fill="#ff0000"/>
<path d="M5 191h1161v2h-1162v-1h1z" fill="#00ff00"/>
<path d="M5 247h1161v2h-1162v-1h1z" fill="#0000ff"/>
<path d="M5 316h1161v2h-1162v-1h1z" fill="#0000ff"/>
<path d="M5 389h1161v2h-1162v-1h1z" fill="#0000ff"/>
<g clip-path="url(#cm)">
<path d="M4 281h1v31h-1zM3 283h3v20h-3zM24 204h1v49h-1zM23 219h3v14h-3zM28 229h1v42h-1zM27 232h3v4h-3zM32 223h1v5h-1zM31 223h3v3h-3zM36 219h1v27h-1zM35 226h3v15h-3zM44 212h1v43h-1zM43 221h3v34h-3zM68 159h1v58h-1zM67 162h3v15h-3zM72 172h1v76h-1zM71 177h3v57h-3zM76 202h1v42h-1zM75 232h3v3h-3zM80 236h1v5h-1zM79 238h3v2h-3zM84 229h1v29h-1zM83 239h3v12h-3zM96 190h1v59h-1zM95 191h3v34h-3zM100 198h1v52h-1zM99 224h3v22h-3zM108 237h1v46h-1zM107 249h3v19h-3zM112 249h1v39h-1zM111 266h3v5h-3zM120 263h1v28h-1zM119 268h3v18h-3zM124 279h1v52h-1zM123 286h3v42h-3zM132 312h1v22h-1zM131 316h3v2h-3zM136 309h1v30h-1zM135 317h3v2h-3zM140 316h1v25h-1zM139 318h3v19h-3zM144 335h1v41h-1zM143 336h3v30h-3zM156 350h1v27h-1zM155 366h3v1h-3zM160 365h1v31h-1zM159 367h3v8h-3zM164 369h1v28h-1zM163 375h3v14h-3zM172 359h1v32h-1zM171 367h3v3h-3zM188 339h1v61h-1zM187 358h3v11h-3zM192 362h1v25h-1zM191 368h3v11h-3zM204 353h1v24h-1zM203 362h3v5h-3zM212 328h1v37h-1zM211 351h3v14h-3zM224 329h1v5h-1zM223 329h3v2h-3zM228 324h1v15h-1zM227 331h3v4h-3zM232 315h1v27h-1zM231 334h3v4h-3zM244 260h1v28h-1zM243 267h3v17h-3zM252 283h1v25h-1zM251 287h3v15h-3zM264 241h1v26h-1zM263 257h3v4h-3zM280 196h1v40h-1zM279 216h3v12h-3zM284 212h1v28h-1zM283 227h3v8h-3zM296 188h1v18h-1zM295 190h3v16h-3zM320 154h1v9h-1zM319 158h3v5h-3zM324 151h1v40h-1zM323 162h3v27h-3zM328 186h1v61h-1zM327 188h3v54h-3zM344 203h1v6h-1zM343 203h3v5h-3zM356 108h1v50h-1zM355 140h3v14h-3zM360 144h1v44h-1zM359 153h3v27h-3zM376 104h1v16h-1zM375 108h3v7h-3zM380 114h1v43h-1zM379 114h3v34h-3zM384 146h1v26h-1zM383 146h3v14h-3zM388 155h1v24h-1zM387 159h3v7h-3zM396 149h1v32h-1zM395 163h3v14h-3zM404 154h1v25h-1zM403 163h3v16h-3zM408 165h1v37h-1zM407 179h3v18h-3zM412 193h1v61h-1zM411 196h3v49h-3zM424 187h1v45h-1zM423 193h3v22h-3zM432 164h1v50h-1zM431 190h3v13h-3zM436 202h1v46h-1zM435 203h3v44h-3zM448 230h1v48h-1zM447 233h3v40h-3zM452 271h1v40h-1zM451 272h3v36h-3zM464 282h1v9h-1zM463 288h3v2h-3zM468 284h1v25h-1zM467 289h3v13h-3zM472 279h1v36h-1zM471 301h3v9h-3zM480 301h1v30h-1zM479 304h3v5h-3zM488 272h1v9h-1zM487 273h3v8h-3zM496 231h1v33h-1zM495 250h3v5h-3zM512 181h1v9h-1zM511 186h3v4h-3zM516 182h1v44h-1zM515 190h3v19h-3zM520 205h1v33h-1zM519 208h3v14h-3zM524 214h1v26h-1zM523 221h3v2h-3zM528 209h1v28h-1zM527 222h3v5h-3zM536 193h1v3h-1zM535 194h3v2h-3zM540 191h1v46h-1zM539 195h3v39h-3zM548 209h1v24h-1zM547 214h3v14h-3zM560 197h1v11h-1zM559 202h3v4h-3zM568 182h1v31h-1zM567 203h3v3h-3zM572 205h1v29h-1zM571 206h3v13h-3zM596 185h1v41h-1zM595 186h3v16h-3zM604 161h1v51h-1zM603 167h3v45h-3zM612 166h1v70h-1zM611 192h3v40h-3zM620 196h1v54h-1zM619 205h3v37h-3zM632 191h1v20h-1zM631 201h3v9h-3zM644 128h1v44h-1zM643 129h3v43h-3zM648 151h1v43h-1zM647 172h3v20h-3zM652 173h1v47h-1zM651 192h3v14h-3zM656 199h1v5h-1zM655 199h3v3h-3zM664 138h1v51h-1zM663 161h3v24h-3zM668 181h1v48h-1zM667 185h3v38h-3zM672 218h1v39h-1zM671 223h3v26h-3zM676 242h1v23h-1zM675 249h3v14h-3zM684 252h1v27h-1zM683 260h3v8h-3zM688 251h1v28h-1zM687 267h3v4h-3zM692 260h1v30h-1zM691 271h3v11h-3zM696 268h1v36h-1zM695 282h3v17h-3zM700 285h1v38h-1zM699 298h3v24h-3zM712 294h1v29h-1zM711 298h3v12h-3zM716 304h1v37h-1zM715 308h3v8h-3zM732 295h1v29h-1zM731 296h3v19h-3zM736 309h1v36h-1zM735 314h3v2h-3zM748 253h1v26h-1zM747 268h3v10h-3zM760 234h1v38h-1zM759 244h3v3h-3zM764 228h1v56h-1zM763 247h3v31h-3zM772 253h1v15h-1zM771 259h3v1h-3zM780 242h1v21h-1zM779 256h3v7h-3zM788 251h1v71h-1zM787 260h3v55h-3zM816 134h1v42h-1zM815 163h3v7h-3zM832 127h1v33h-1zM831 138h3v18h-3zM836 147h1v59h-1zM835 155h3v44h-3zM860 61h1v55h-1zM859 64h3v18h-3zM868 64h1v55h-1zM867 67h3v45h-3zM872 116h1v8h-1zM871 118h3v5h-3zM876 87h1v68h-1zM875 123h3v26h-3zM880 144h1v26h-1zM879 148h3v21h-3zM888 131h1v48h-1zM887 132h3v31h-3zM896 159h1v7h-1zM895 159h3v5h-3zM900 162h1v26h-1zM899 163h3v14h-3zM908 132h1v38h-1zM907 159h3v3h-3zM912 149h1v37h-1zM911 162h3v21h-3zM916 178h1v29h-1zM915 182h3v24h-3zM924 204h1v36h-1zM923 204h3v32h-3z" fill="#32cd32"/>
<path d="M8 294h1v4h-1zM7 294h3v3h-3zM12 281h1v17h-1zM11 292h3v3h-3zM16 237h1v63h-1zM15 241h3v52h-3zM20 188h1v63h-1zM19 219h3v23h-3zM40 217h1v46h-1zM39 220h3v20h-3zM48 217h1v39h-1zM47 225h3v30h-3zM52 187h1v60h-1zM51 195h3v30h-3zM56 184h1v5h-1zM55 186h3v1h-3zM60 128h1v62h-1zM59 169h3v18h-3zM64 148h1v49h-1zM63 164h3v5h-3zM88 215h1v51h-1zM87 227h3v24h-3zM92 182h1v50h-1zM91 191h3v35h-3zM104 248h1v6h-1zM103 250h3v3h-3zM116 240h1v32h-1zM115 269h3v1h-3zM128 314h1v7h-1zM127 316h3v4h-3zM148 355h1v29h-1zM147 361h3v5h-3zM152 366h1v5h-1zM151 366h3v3h-3zM168 361h1v45h-1zM167 367h3v22h-3zM176 363h1v7h-1zM175 367h3v2h-3zM180 354h1v29h-1zM179 363h3v5h-3zM184 356h1v22h-1zM183 358h3v7h-3zM196 350h1v38h-1zM195 367h3v12h-3zM200 360h1v4h-1zM199 361h3v2h-3zM208 343h1v25h-1zM207 351h3v16h-3zM216 322h1v43h-1zM215 331h3v34h-3zM220 317h1v21h-1zM219 327h3v4h-3zM236 306h1v55h-1zM235 315h3v23h-3zM240 264h1v53h-1zM239 267h3v48h-3zM248 285h1v6h-1zM247 287h3v2h-3zM256 277h1v35h-1zM255 278h3v25h-3zM260 252h1v39h-1zM259 257h3v22h-3zM268 234h1v36h-1zM267 235h3v26h-3zM272 237h1v8h-1zM271 237h3v8h-3zM276 214h1v36h-1zM275 216h3v23h-3zM288 227h1v18h-1zM287 234h3v1h-3zM292 171h1v64h-1zM291 178h3v56h-3zM300 174h1v34h-1zM299 199h3v7h-3zM304 154h1v49h-1zM303 182h3v18h-3zM308 157h1v54h-1zM307 165h3v18h-3zM312 153h1v28h-1zM311 162h3v5h-3zM316 149h1v48h-1zM315 153h3v10h-3zM332 232h1v28h-1zM331 238h3v4h-3zM336 206h1v34h-1zM335 213h3v26h-3zM340 199h1v28h-1zM339 203h3v11h-3zM348 161h1v54h-1zM347 167h3v41h-3zM352 139h1v34h-1zM351 140h3v28h-3zM364 133h1v49h-1zM363 134h3v47h-3zM368 124h1v8h-1zM367 125h3v6h-3zM372 95h1v37h-1zM371 108h3v18h-3zM392 162h1v5h-1zM391 164h3v2h-3zM400 156h1v24h-1zM399 163h3v14h-3zM416 235h1v15h-1zM415 235h3v14h-3zM420 180h1v63h-1zM419 193h3v44h-3zM428 187h1v34h-1zM427 190h3v25h-3zM440 236h1v12h-1zM439 240h3v4h-3zM444 217h1v42h-1zM443 233h3v9h-3zM456 298h1v32h-1zM455 304h3v3h-3zM460 276h1v46h-1zM459 280h3v25h-3zM476 297h1v35h-1zM475 304h3v6h-3zM484 275h1v35h-1zM483 275h3v34h-3zM492 215h1v69h-1zM491 250h3v31h-3zM500 222h1v62h-1zM499 236h3v20h-3zM504 194h1v46h-1zM503 195h3v42h-3zM508 172h1v39h-1zM507 177h3v19h-3zM532 176h1v58h-1zM531 192h3v35h-3zM544 207h1v27h-1zM543 214h3v19h-3zM552 201h1v46h-1zM551 202h3v26h-3zM556 192h1v39h-1zM555 197h3v5h-3zM564 179h1v29h-1zM563 203h3v3h-3zM576 202h1v26h-1zM575 213h3v6h-3zM580 190h1v39h-1zM579 196h3v17h-3zM584 189h1v5h-1zM583 190h3v3h-3zM588 187h1v20h-1zM587 190h3v1h-3zM592 178h1v31h-1zM591 185h3v6h-3zM600 135h1v67h-1zM599 167h3v34h-3zM608 189h1v10h-1zM607 191h3v3h-3zM616 193h1v46h-1zM615 205h3v28h-3zM624 220h1v49h-1zM623 231h3v11h-3zM628 174h1v57h-1zM627 197h3v34h-3zM636 161h1v63h-1zM635 172h3v38h-3zM640 124h1v49h-1zM639 129h3v42h-3zM660 158h1v44h-1zM659 161h3v40h-3zM680 260h1v5h-1zM679 260h3v2h-3zM704 314h1v5h-1zM703 314h3v2h-3zM708 266h1v55h-1zM707 298h3v17h-3zM720 294h1v31h-1zM719 307h3v9h-3zM724 291h1v27h-1zM723 304h3v4h-3zM728 296h1v3h-1zM727 296h3v3h-3zM740 278h1v41h-1zM739 280h3v36h-3zM744 257h1v35h-1zM743 268h3v12h-3zM752 271h1v8h-1zM751 271h3v7h-3zM756 242h1v34h-1zM755 244h3v28h-3zM768 243h1v56h-1zM767 259h3v19h-3zM776 255h1v4h-1zM775 255h3v4h-3zM784 241h1v37h-1zM783 260h3v2h-3zM792 266h1v62h-1zM791 266h3v49h-3zM796 205h1v65h-1zM795 207h3v59h-3zM800 205h1v5h-1zM799 206h3v4h-3zM804 181h1v29h-1zM803 199h3v8h-3zM808 159h1v65h-1zM807 167h3v33h-3zM812 147h1v35h-1zM811 164h3v4h-3zM820 154h1v55h-1zM819 155h3v15h-3zM824 145h1v7h-1zM823 145h3v5h-3zM828 118h1v32h-1zM827 138h3v9h-3zM840 139h1v74h-1zM839 159h3v41h-3zM844 120h1v45h-1zM843 122h3v37h-3zM848 115h1v5h-1zM847 116h3v3h-3zM852 70h1v52h-1zM851 75h3v42h-3zM856 55h1v42h-1zM855 64h3v11h-3zM864 44h1v46h-1zM863 67h3v15h-3zM884 129h1v45h-1zM883 130h3v38h-3zM892 139h1v43h-1zM891 147h3v16h-3zM904 137h1v44h-1zM903 160h3v17h-3zM920 204h1v5h-1zM919 204h3v2h-3z" fill="#ff0000"/>
<path d="M8 295h1v1h-1zM12 293h1v1h-1zM16 242h1v50h-1zM20 220h1v21h-1zM40 221h1v18h-1zM48 226h1v28h-1zM52 196h1v28h-1zM60 170h1v16h-1zM64 165h1v3h-1zM88 228h1v22h-1zM92 192h1v33h-1zM104 251h1v1h-1zM128 317h1v2h-1zM148 362h1v3h-1zM152 367h1v1h-1zM168 368h1v20h-1zM180 364h1v3h-1zM184 359h1v5h-1zM196 368h1v10h-1zM208 352h1v14h-1zM216 332h1v32h-1zM220 328h1v2h-1zM236 316h1v21h-1zM240 268h1v46h-1zM256 279h1v23h-1zM260 258h1v20h-1zM268 236h1v24h-1zM272 238h1v6h-1zM276 217h1v21h-1zM292 179h1v54h-1zM300 200h1v5h-1zM304 183h1v16h-1zM308 166h1v16h-1zM312 163h1v3h-1zM316 154h1v8h-1zM332 239h1v2h-1zM336 214h1v24h-1zM340 204h1v9h-1zM348 168h1v39h-1zM352 141h1v26h-1zM364 135h1v45h-1zM368 126h1v4h-1zM372 109h1v16h-1zM400 164h1v12h-1zM416 236h1v12h-1zM420 194h1v42h-1zM428 191h1v23h-1zM440 241h1v2h-1zM444 234h1v7h-1zM456 305h1v1h-1zM460 281h1v23h-1zM476 305h1v4h-1zM484 276h1v32h-1zM492 251h1v29h-1zM500 237h1v18h-1zM504 196h1v40h-1zM508 178h1v17h-1zM532 193h1v33h-1zM544 215h1v17h-1zM552 203h1v24h-1zM556 198h1v3h-1zM564 204h1v1h-1zM576 214h1v4h-1zM580 197h1v15h-1zM584 191h1v1h-1zM592 186h1v4h-1zM600 168h1v32h-1zM608 192h1v1h-1zM616 206h1v26h-1zM624 232h1v9h-1zM628 198h1v32h-1zM636 173h1v36h-1zM640 130h1v40h-1zM660 162h1v38h-1zM708 299h1v15h-1zM720 308h1v7h-1zM724 305h1v2h-1zM728 297h1v1h-1zM740 281h1v34h-1zM744 269h1v10h-1zM752 272h1v5h-1zM756 245h1v26h-1zM768 260h1v17h-1zM776 256h1v2h-1zM792 267h1v47h-1zM796 208h1v57h-1zM800 207h1v2h-1zM804 200h1v6h-1zM808 168h1v31h-1zM812 165h1v2h-1zM820 156h1v13h-1zM824 146h1v3h-1zM828 139h1v7h-1zM840 160h1v39h-1zM844 123h1v35h-1zM848 117h1v1h-1zM852 76h1v40h-1zM856 65h1v9h-1zM864 68h1v13h-1zM884 131h1v36h-1zM892 148h1v14h-1zM904 161h1v15h-1z" fill="#ff4500"/>
</g>
<path d="M3 455h3v1h-3zM7 456h3v2h-3zM11 456h3v4h-3zM15 456h3v2h-3zM19 454h3v2h-3zM23 453h3v3h-3zM27 452h3v4h-3zM31 450h3v6h-3zM35 450h3v6h-3zM39 449h3v7h-3zM43 450h3v6h-3zM47 450h3v6h-3zM51 447h3v9h-3zM55 445h3v11h-3zM59 442h3v14h-3zM63 440h3v16h-3zM67 439h3v17h-3zM71 442h3v14h-3zM75 445h3v11h-3zM79 447h3v9h-3zM83 450h3v6h-3zM87 451h3v5h-3zM91 449h3v7h-3zM95 450h3v6h-3zM99 452h3v4h-3zM103 454h3v2h-3zM107 456h3v2h-3zM111 456h3v4h-3zM115 456h3v6h-3zM119 456h3v8h-3zM123 456h3v13h-3zM127 456h3v15h-3zM131 456h3v17h-3zM135 456h3v19h-3zM139 456h3v21h-3zM143 456h3v24h-3zM147 456h3v26h-3zM151 456h3v28h-3zM155 456h3v29h-3zM159 456h3v30h-3zM163 456h3v31h-3zM167 456h3v30h-3zM171 456h3v30h-3zM175 456h3v29h-3zM179 456h3v27h-3zM183 456h3v26h-3zM187 456h3v25h-3zM191 456h3v24h-3zM195 456h3v23h-3zM199 456h3v21h-3zM203 456h3v20h-3zM207 456h3v18h-3zM211 456h3v17h-3zM215 456h3v14h-3zM219 456h3v11h-3zM223 456h3v9h-3zM227 456h3v8h-3zM231 456h3v7h-3zM235 456h3v4h-3zM239 455h3v1h-3zM243 452h3v4h-3zM247 450h3v6h-3zM251 450h3v6h-3zM255 448h3v8h-3zM259 445h3v11h-3zM263 444h3v12h-3zM267 441h3v15h-3zM271 439h3v17h-3zM275 437h3v19h-3zM279 436h3v20h-3zM283 435h3v21h-3zM287 435h3v21h-3zM291 432h3v24h-3zM295 432h3v24h-3zM299 431h3v25h-3zM303 430h3v26h-3zM307 429h3v27h-3zM311 427h3v29h-3zM315 426h3v30h-3zM319 426h3v30h-3zM323 428h3v28h-3zM327 433h3v23h-3zM331 437h3v19h-3zM335 439h3v17h-3zM339 440h3v16h-3zM343 442h3v14h-3zM347 440h3v16h-3zM351 438h3v18h-3zM355 437h3v19h-3zM359 438h3v18h-3zM363 436h3v20h-3zM367 435h3v21h-3zM371 432h3v24h-3zM375 431h3v25h-3zM379 433h3v23h-3zM383 435h3v21h-3zM387 438h3v18h-3zM391 439h3v17h-3zM395 442h3v14h-3zM399 443h3v13h-3zM403 445h3v11h-3zM407 448h3v8h-3zM411 454h3v2h-3zM415 456h3v2h-3zM419 456h3v2h-3zM423 456h3v4h-3zM427 456h3v4h-3zM431 456h3v4h-3zM435 456h3v7h-3zM439 456h3v9h-3zM443 456h3v10h-3zM447 456h3v14h-3zM451 456h3v18h-3zM455 456h3v21h-3zM459 456h3v22h-3zM463 456h3v23h-3zM467 456h3v24h-3zM471 456h3v26h-3zM475 456h3v26h-3zM479 456h3v26h-3zM483 456h3v24h-3zM487 456h3v22h-3zM491 456h3v19h-3zM495 456h3v16h-3zM499 456h3v13h-3zM503 456h3v7h-3zM507 456h3v2h-3zM511 454h3v2h-3zM515 452h3v4h-3zM519 452h3v4h-3zM523 452h3v4h-3zM527 452h3v4h-3zM531 450h3v6h-3zM535 449h3v7h-3zM539 450h3v6h-3zM543 450h3v6h-3zM547 451h3v5h-3zM551 451h3v5h-3zM555 450h3v6h-3zM559 450h3v6h-3zM563 450h3v6h-3zM567 450h3v6h-3zM571 451h3v5h-3zM575 451h3v5h-3zM579 451h3v5h-3zM583 450h3v6h-3zM587 449h3v7h-3zM591 449h3v7h-3zM595 449h3v7h-3zM599 448h3v8h-3zM603 449h3v7h-3zM607 449h3v7h-3zM611 452h3v4h-3zM615 452h3v4h-3zM619 455h3v1h-3zM623 456h3v2h-3zM627 456h3v1h-3zM631 456h3v1h-3zM635 453h3v3h-3zM639 449h3v7h-3zM643 448h3v8h-3zM647 449h3v7h-3zM651 450h3v6h-3zM655 451h3v5h-3zM659 450h3v6h-3zM663 450h3v6h-3zM667 453h3v3h-3zM671 456h3v1h-3zM675 456h3v5h-3zM679 456h3v8h-3zM683 456h3v11h-3zM687 456h3v13h-3zM691 456h3v15h-3zM695 456h3v18h-3zM699 456h3v21h-3zM703 456h3v23h-3zM707 456h3v23h-3zM711 456h3v24h-3zM715 456h3v25h-3zM719 456h3v25h-3zM723 456h3v24h-3zM727 456h3v23h-3zM731 456h3v22h-3zM735 456h3v22h-3zM739 456h3v20h-3zM743 456h3v16h-3zM747 456h3v14h-3zM751 456h3v12h-3zM755 456h3v9h-3zM759 456h3v6h-3zM763 456h3v6h-3zM767 456h3v5h-3zM771 456h3v4h-3zM775 456h3v2h-3zM779 456h3v2h-3zM783 456h3v1h-3zM787 456h3v5h-3zM791 456h3v4h-3zM795 455h3v1h-3zM799 451h3v5h-3zM803 448h3v8h-3zM807 444h3v12h-3zM811 441h3v15h-3zM815 439h3v17h-3zM819 436h3v20h-3zM823 434h3v22h-3zM827 432h3v24h-3zM831 432h3v24h-3zM835 435h3v21h-3zM839 435h3v21h-3zM843 433h3v23h-3zM847 431h3v25h-3zM851 428h3v28h-3zM855 424h3v32h-3zM859 423h3v33h-3zM863 422h3v34h-3zM867 424h3v32h-3zM871 427h3v29h-3zM875 431h3v25h-3zM879 436h3v20h-3zM883 437h3v19h-3zM887 441h3v15h-3zM891 443h3v13h-3zM895 445h3v11h-3zM899 448h3v8h-3zM903 450h3v6h-3zM907 451h3v5h-3zM911 453h3v3h-3zM915 456h3v2h-3zM919 456h3v4h-3zM923 456h3v8h-3z" fill="#c0c0c0"/>
<path d="M4 446h1v1h-1zM5 446h1v1h-1zM6 447h1v1h-1zM7 447h1v1h-1zM8 448h1v1h-1zM9 448h1v1h-1zM10 449h1v1h-1zM11 449h1v1h-1zM12 450h1v1h-1zM13 450h1v1h-1zM14 451h1v1h-1zM15 451h1v1h-1zM16 452h1v1h-1zM17 452h1v1h-1zM18 452h1v1h-1zM19 453h1v1h-1zM20 453h1v1h-1zM21 453h1v1h-1zM22 453h1v1h-1zM23 454h1v1h-1zM24 454h1v1h-1zM25 454h1v1h-1zM26 454h1v1h-1zM27 454h1v1h-1zM28 454h1v1h-1zM29 454h1v1h-1zM30 454h1v1h-1zM31 454h1v1h-1zM32 454h1v1h-1zM33 454h1v1h-1zM34 454h1v1h-1zM35 454h1v1h-1zM36 454h1v1h-1zM37 454h1v1h-1zM38 454h1v1h-1zM39 453h1v1h-1zM40 453h1v1h-1zM41 453h1v1h-1zM42 453h1v1h-1zM43 452h1v1h-1zM44 452h1v1h-1zM45 452h1v1h-1zM46 452h1v1h-1zM47 451h1v1h-1zM48 451h1v1h-1zM49 451h1v1h-1zM50 451h1v1h-1zM51 450h1v1h-1zM52 450h1v1h-1zM53 450h1v1h-1zM54 450h1v1h-1zM55 449h1v1h-1zM56 449h1v1h-1zM57 449h1v1h-1zM58 449h1v1h-1zM59 448h1v1h-1zM60 448h1v1h-1zM61 448h1v1h-1zM62 448h1v1h-1zM63 447h1v1h-1zM64 447h1v1h-1zM65 447h1v1h-1zM66 447h1v1h-1zM67 446h1v1h-1zM68 446h1v1h-1zM69 446h1v1h-1zM70 446h1v1h-1zM71 445h1v1h-1zM72 445h1v1h-1zM73 445h1v1h-1zM74 445h1v1h-1zM75 444h1v1h-1zM76 444h1v1h-1zM77 444h1v1h-1zM78 444h1v1h-1zM79 444h1v1h-1zM80 444h1v1h-1zM81 444h1v1h-1zM82 444h1v1h-1zM83 444h1v1h-1zM84 444h1v1h-1zM85 444h1v1h-1zM86 444h1v1h-1zM87 444h1v1h-1zM88 444h1v1h-1zM89 444h1v1h-1zM90 444h1v1h-1zM91 445h1v1h-1zM92 445h1v1h-1zM93 445h1v1h-1zM94 445h1v1h-1zM95 446h1v1h-1zM96 446h1v1h-1zM97 446h1v1h-1zM98 446h1v1h-1zM99 447h1v1h-1zM100 447h1v1h-1zM101 447h1v1h-1zM102 448h1v1h-1zM103 448h1v1h-1zM104 449h1v1h-1zM105 449h1v1h-1zM106 449h1v1h-1zM107 450h1v1h-1zM108 450h1v1h-1zM109 450h1v1h-1zM110 451h1v1h-1zM111 451h1v1h-1zM112 452h1v1h-1zM113 452h1v1h-1zM114 452h1v1h-1zM115 453h1v1h-1zM116 453h1v1h-1zM117 453h1v1h-1zM118 454h1v1h-1zM119 454h1v1h-1zM120 455h1v1h-1zM121 455h1v1h-1zM122 456h1v1h-1zM123 456h1v1h-1zM124 457h1v1h-1zM125 457h1v1h-1zM126 458h1v1h-1zM127 458h1v1h-1zM128 459h1v1h-1zM129 459h1v1h-1zM130 460h1v1h-1zM131 460h1v1h-1zM132 461h1v1h-1zM133 462h1v1h-1zM134 462h1v1h-1zM135 463h1v1h-1zM136 464h1v1h-1zM137 464h1v1h-1zM138 465h1v1h-1zM139 465h1v1h-1zM140 466h1v1h-1zM141 467h1v1h-1zM142 467h1v1h-1zM143 468h1v1h-1zM144 469h1v1h-1zM145 469h1v1h-1zM146 470h1v1h-1zM147 470h1v1h-1zM148 471h1v1h-1zM149 472h1v1h-1zM150 472h1v1h-1zM151 473h1v1h-1zM152 474h1v1h-1zM153 474h1v1h-1zM154 475h1v1h-1zM155 475h1v1h-1zM156 476h1v1h-1zM157 476h1v1h-1zM158 477h1v1h-1zM159 477h1v1h-1zM160 478h1v1h-1zM161 478h1v1h-1zM162 478h1v1h-1zM163 479h1v1h-1zM164 479h1v1h-1zM165 479h1v1h-1zM166 480h1v1h-1zM167 480h1v1h-1zM168 481h1v1h-1zM169 481h1v1h-1zM170 481h1v1h-1zM171 482h1v1h-1zM172 482h1v1h-1zM173 482h1v1h-1zM174 482h1v1h-1zM175 483h1v1h-1zM176 483h1v1h-1zM177 483h1v1h-1zM178 483h1v1h-1zM179 483h1v1h-1zM180 483h1v1h-1zM181 483h1v1h-1zM182 483h1v1h-1zM183 483h1v1h-1zM184 483h1v1h-1zM185 483h1v1h-1zM186 483h1v1h-1zM187 483h1v1h-1zM188 483h1v1h-1zM189 483h1v1h-1zM190 483h1v1h-1zM191 482h1v1h-1zM192 482h1v1h-1zM193 482h1v1h-1zM194 482h1v1h-1zM195 482h1v1h-1zM196 482h1v1h-1zM197 482h1v1h-1zM198 482h1v1h-1zM199 481h1v1h-1zM200 481h1v1h-1zM201 481h1v1h-1zM202 481h1v1h-1zM203 480h1v1h-1zM204 480h1v1h-1zM205 480h1v1h-1zM206 479h1v1h-1zM207 479h1v1h-1zM208 478h1v1h-1zM209 478h1v1h-1zM210 478h1v1h-1zM211 477h1v1h-1zM212 477h1v1h-1zM213 477h1v1h-1zM214 477h1v1h-1zM215 476h1v1h-1zM216 476h1v1h-1zM217 476h1v1h-1zM218 475h1v1h-1zM219 475h1v1h-1zM220 474h1v1h-1zM221 474h1v1h-1zM222 473h1v1h-1zM223 473h1v1h-1zM224 472h1v1h-1zM225 472h1v1h-1zM226 471h1v1h-1zM227 471h1v1h-1zM228 470h1v1h-1zM229 470h1v1h-1zM230 470h1v1h-1zM231 469h1v1h-1zM232 469h1v1h-1zM233 469h1v1h-1zM234 468h1v1h-1zM235 468h1v1h-1zM236 467h1v1h-1zM237 466h1v1h-1zM238 466h1v1h-1zM239 465h1v1h-1zM240 464h1v1h-1zM241 464h1v1h-1zM242 463h1v1h-1zM243 463h1v1h-1zM244 462h1v1h-1zM245 461h1v1h-1zM246 461h1v1h-1zM247 460h1v1h-1zM248 459h1v1h-1zM249 459h1v1h-1zM250 458h1v1h-1zM251 458h1v1h-1zM252 457h1v1h-1zM253 457h1v1h-1zM254 456h1v1h-1zM255 456h1v1h-1zM256 455h1v1h-1zM257 455h1v1h-1zM258 454h1v1h-1zM259 454h1v1h-1zM260 453h1v1h-1zM261 453h1v1h-1zM262 452h1v1h-1zM263 452h1v1h-1zM264 451h1v1h-1zM265 451h1v1h-1zM266 450h1v1h-1zM267 450h1v1h-1zM268 449h1v1h-1zM269 448h1v1h-1zM270 448h1v1h-1zM271 447h1v1h-1zM272 446h1v1h-1zM273 446h1v1h-1zM274 445h1v1h-1zM275 445h1v1h-1zM276 444h1v1h-1zM277 444h1v1h-1zM278 444h1v1h-1zM279 443h1v1h-1zM280 443h1v1h-1zM281 443h1v1h-1zM282 442h1v1h-1zM283 442h1v1h-1zM284 441h1v1h-1zM285 441h1v1h-1zM286 440h1v1h-1zM287 440h1v1h-1zM288 439h1v1h-1zM289 439h1v1h-1zM290 439h1v1h-1zM291 438h1v1h-1zM292 438h1v1h-1zM293 438h1v1h-1zM294 437h1v1h-1zM295 437h1v1h-1zM296 436h1v1h-1zM297 436h1v1h-1zM298 436h1v1h-1zM299 435h1v1h-1zM300 435h1v1h-1zM301 435h1v1h-1zM302 435h1v1h-1zM303 434h1v1h-1zM304 434h1v1h-1zM305 434h1v1h-1zM306 434h1v1h-1zM307 433h1v1h-1zM308 433h1v1h-1zM309 433h1v1h-1zM310 433h1v1h-1zM311 432h1v1h-1zM312 432h1v1h-1zM313 432h1v1h-1zM314 431h1v1h-1zM315 431h1v1h-1zM316 430h1v1h-1zM317 430h1v1h-1zM318 430h1v1h-1zM319 429h1v1h-1zM320 429h1v1h-1zM321 429h1v1h-1zM322 429h1v1h-1zM323 429h1v1h-1zM324 429h1v1h-1zM325 429h1v1h-1zM326 429h1v1h-1zM327 429h1v1h-1zM328 429h1v1h-1zM329 429h1v1h-1zM330 429h1v1h-1zM331 429h1v1h-1zM332 429h1v1h-1zM333 429h1v1h-1zM334 429h1v1h-1zM335 430h1v1h-1zM336 430h1v1h-1zM337 430h1v1h-1zM338 430h1v1h-1zM339 431h1v1h-1zM340 431h1v1h-1zM341 431h1v1h-1zM342 432h1v1h-1zM343 432h1v1h-1zM344 433h1v1h-1zM345 433h1v1h-1zM346 433h1v1h-1zM347 434h1v1h-1zM348 434h1v1h-1zM349 434h1v1h-1zM350 435h1v1h-1zM351 435h1v1h-1zM352 436h1v1h-1zM353 436h1v1h-1zM354 436h1v1h-1zM355 437h1v1h-1zM356 437h1v1h-1zM357 437h1v1h-1zM358 437h1v1h-1zM359 438h1v1h-1zM360 438h1v1h-1zM361 438h1v1h-1zM362 438h1v1h-1zM363 438h1v1h-1zM364 438h1v1h-1zM365 438h1v1h-1zM366 438h1v1h-1zM367 438h1v1h-1zM368 438h1v1h-1zM369 438h1v1h-1zM370 438h1v1h-1zM371 437h1v1h-1zM372 437h1v1h-1zM373 437h1v1h-1zM374 437h1v1h-1zM375 436h1v1h-1zM376 436h1v1h-1zM377 436h1v1h-1zM378 436h1v1h-1zM379 435h1v1h-1zM380 435h1v1h-1zM381 435h1v1h-1zM382 435h1v1h-1zM383 435h1v1h-1zM384 435h1v1h-1zM385 435h1v1h-1zM386 435h1v1h-1zM387 435h1v1h-1zM388 435h1v1h-1zM389 435h1v1h-1zM390 435h1v1h-1zM391 435h1v1h-1zM392 435h1v1h-1zM393 435h1v1h-1zM394 435h1v1h-1zM395 435h1v1h-1zM396 435h1v1h-1zM397 435h1v1h-1zM398 435h1v1h-1zM399 436h1v1h-1zM400 436h1v1h-1zM401 436h1v1h-1zM402 436h1v1h-1zM403 437h1v1h-1zM404 437h1v1h-1zM405 437h1v1h-1zM406 438h1v1h-1zM407 438h1v1h-1zM408 439h1v1h-1zM409 439h1v1h-1zM410 440h1v1h-1zM411 440h1v1h-1zM412 441h1v1h-1zM413 442h1v1h-1zM414 442h1v1h-1zM415 443h1v1h-1zM416 444h1v1h-1zM417 445h1v1h-1zM418 445h1v1h-1zM419 446h1v1h-1zM420 447h1v1h-1zM421 447h1v1h-1zM422 448h1v1h-1zM423 448h1v1h-1zM424 449h1v1h-1zM425 449h1v1h-1zM426 450h1v1h-1zM427 450h1v1h-1zM428 451h1v1h-1zM429 451h1v1h-1zM430 452h1v1h-1zM431 452h1v1h-1zM432 453h1v1h-1zM433 453h1v1h-1zM434 454h1v1h-1zM435 454h1v1h-1zM436 455h1v1h-1zM437 455h1v1h-1zM438 456h1v1h-1zM439 456h1v1h-1zM440 457h1v1h-1zM441 457h1v1h-1zM442 458h1v1h-1zM443 458h1v1h-1zM444 459h1v1h-1zM445 459h1v1h-1zM446 460h1v1h-1zM447 460h1v1h-1zM448 461h1v1h-1zM449 461h1v1h-1zM450 462h1v1h-1zM451 462h1v1h-1zM452 463h1v1h-1zM453 463h1v1h-1zM454 464h1v1h-1zM455 464h1v1h-1zM456 465h1v1h-1zM457 465h1v1h-1zM458 466h1v1h-1zM459 466h1v1h-1zM460 467h1v1h-1zM461 467h1v1h-1zM462 468h1v1h-1zM463 468h1v1h-1zM464 469h1v1h-1zM465 469h1v1h-1zM466 470h1v1h-1zM467 470h1v1h-1zM468 471h1v1h-1zM469 471h1v1h-1zM470 472h1v1h-1zM471 472h1v1h-1zM472 473h1v1h-1zM473 473h1v1h-1zM474 474h1v1h-1zM475 474h1v1h-1zM476 475h1v1h-1zM477 475h1v1h-1zM478 476h1v1h-1zM479 476h1v1h-1zM480 477h1v1h-1zM481 477h1v1h-1zM482 477h1v1h-1zM483 478h1v1h-1zM484 478h1v1h-1zM485 478h1v1h-1zM486 478h1v1h-1zM487 478h1v1h-1zM488 478h1v1h-1zM489 478h1v1h-1zM490 478h1v1h-1zM491 478h1v1h-1zM492 478h1v1h-1zM493 478h1v1h-1zM494 478h1v1h-1zM495 477h1v1h-1zM496 477h1v1h-1zM497 477h1v1h-1zM498 477h1v1h-1zM499 476h1v1h-1zM500 476h1v1h-1zM501 476h1v1h-1zM502 475h1v1h-1zM503 475h1v1h-1zM504 474h1v1h-1zM505 474h1v1h-1zM506 473h1v1h-1zM507 473h1v1h-1zM508 472h1v1h-1zM509 471h1v1h-1zM510 471h1v1h-1zM511 470h1v1h-1zM512 469h1v1h-1zM513 468h1v1h-1zM514 468h1v1h-1zM515 467h1v1h-1zM516 466h1v1h-1zM517 465h1v1h-1zM518 465h1v1h-1zM519 464h1v1h-1zM520 463h1v1h-1zM521 462h1v1h-1zM522 462h1v1h-1zM523 461h1v1h-1zM524 460h1v1h-1zM525 459h1v1h-1zM526 459h1v1h-1zM527 458h1v1h-1zM528 457h1v1h-1zM529 457h1v1h-1zM530 456h1v1h-1zM531 456h1v1h-1zM532 455h1v1h-1zM533 455h1v1h-1zM534 454h1v1h-1zM535 454h1v1h-1zM536 453h1v1h-1zM537 453h1v1h-1zM538 452h1v1h-1zM539 452h1v1h-1zM540 451h1v1h-1zM541 451h1v1h-1zM542 451h1v1h-1zM543 451h1v1h-1zM544 451h1v1h-1zM545 451h1v1h-1zM546 451h1v1h-1zM547 450h1v1h-1zM548 450h1v1h-1zM549 450h1v1h-1zM550 450h1v1h-1zM551 450h1v1h-1zM552 450h1v1h-1zM553 450h1v1h-1zM554 450h1v1h-1zM555 450h1v1h-1zM556 450h1v1h-1zM557 450h1v1h-1zM558 450h1v1h-1zM559 450h1v1h-1zM560 450h1v1h-1zM561 450h1v1h-1zM562 450h1v1h-1zM563 450h1v1h-1zM564 450h1v1h-1zM565 450h1v1h-1zM566 450h1v1h-1zM567 449h1v1h-1zM568 449h1v1h-1zM569 449h1v1h-1zM570 449h1v1h-1zM571 450h1v1h-1zM572 450h1v1h-1zM573 450h1v1h-1zM574 450h1v1h-1zM575 450h1v1h-1zM576 450h1v1h-1zM577 450h1v1h-1zM578 450h1v1h-1zM579 450h1v1h-1zM580 450h1v1h-1zM581 450h1v1h-1zM582 450h1v1h-1zM583 450h1v1h-1zM584 450h1v1h-1zM585 450h1v1h-1zM586 450h1v1h-1zM587 449h1v1h-1zM588 449h1v1h-1zM589 449h1v1h-1zM590 449h1v1h-1zM591 449h1v1h-1zM592 449h1v1h-1zM593 449h1v1h-1zM594 449h1v1h-1zM595 449h1v1h-1zM596 449h1v1h-1zM597 449h1v1h-1zM598 449h1v1h-1zM599 449h1v1h-1zM600 449h1v1h-1zM601 449h1v1h-1zM602 449h1v1h-1zM603 449h1v1h-1zM604 449h1v1h-1zM605 449h1v1h-1zM606 449h1v1h-1zM607 449h1v1h-1zM608 449h1v1h-1zM609 449h1v1h-1zM610 449h1v1h-1zM611 449h1v1h-1zM612 449h1v1h-1zM613 449h1v1h-1zM614 449h1v1h-1zM615 449h1v1h-1zM616 449h1v1h-1zM617 449h1v1h-1zM618 449h1v1h-1zM619 450h1v1h-1zM620 450h1v1h-1zM621 450h1v1h-1zM622 450h1v1h-1zM623 451h1v1h-1zM624 451h1v1h-1zM625 451h1v1h-1zM626 451h1v1h-1zM627 451h1v1h-1zM628 451h1v1h-1zM629 451h1v1h-1zM630 451h1v1h-1zM631 452h1v1h-1zM632 452h1v1h-1zM633 452h1v1h-1zM634 452h1v1h-1zM635 453h1v1h-1zM636 453h1v1h-1zM637 453h1v1h-1zM638 453h1v1h-1zM639 453h1v1h-1zM640 453h1v1h-1zM641 453h1v1h-1zM642 453h1v1h-1zM643 453h1v1h-1zM644 453h1v1h-1zM645 453h1v1h-1zM646 453h1v1h-1zM647 452h1v1h-1zM648 452h1v1h-1zM649 452h1v1h-1zM650 452h1v1h-1zM651 452h1v1h-1zM652 452h1v1h-1zM653 452h1v1h-1zM654 452h1v1h-1zM655 452h1v1h-1zM656 452h1v1h-1zM657 452h1v1h-1zM658 452h1v1h-1zM659 451h1v1h-1zM660 451h1v1h-1zM661 451h1v1h-1zM662 451h1v1h-1zM663 450h1v1h-1zM664 450h1v1h-1zM665 450h1v1h-1zM666 450h1v1h-1zM667 450h1v1h-1zM668 450h1v1h-1zM669 450h1v1h-1zM670 450h1v1h-1zM671 450h1v1h-1zM672 450h1v1h-1zM673 450h1v1h-1zM674 451h1v1h-1zM675 451h1v1h-1zM676 452h1v1h-1zM677 452h1v1h-1zM678 452h1v1h-1zM679 453h1v1h-1zM680 453h1v1h-1zM681 453h1v1h-1zM682 454h1v1h-1zM683 454h1v1h-1zM684 455h1v1h-1zM685 455h1v1h-1zM686 456h1v1h-1zM687 456h1v1h-1zM688 457h1v1h-1zM689 457h1v1h-1zM690 458h1v1h-1zM691 458h1v1h-1zM692 459h1v1h-1zM693 460h1v1h-1zM694 460h1v1h-1zM695 461h1v1h-1zM696 462h1v1h-1zM697 462h1v1h-1zM698 463h1v1h-1zM699 463h1v1h-1zM700 464h1v1h-1zM701 465h1v1h-1zM702 465h1v1h-1zM703 466h1v1h-1zM704 467h1v1h-1zM705 468h1v1h-1zM706 468h1v1h-1zM707 469h1v1h-1zM708 470h1v1h-1zM709 470h1v1h-1zM710 471h1v1h-1zM711 471h1v1h-1zM712 472h1v1h-1zM713 472h1v1h-1zM714 473h1v1h-1zM715 473h1v1h-1zM716 474h1v1h-1zM717 474h1v1h-1zM718 474h1v1h-1zM719 475h1v1h-1zM720 475h1v1h-1zM721 475h1v1h-1zM722 475h1v1h-1zM723 476h1v1h-1zM724 476h1v1h-1zM725 476h1v1h-1zM726 476h1v1h-1zM727 477h1v1h-1zM728 477h1v1h-1zM729 477h1v1h-1zM730 477h1v1h-1zM731 478h1v1h-1zM732 478h1v1h-1zM733 478h1v1h-1zM734 478h1v1h-1zM735 478h1v1h-1zM736 478h1v1h-1zM737 478h1v1h-1zM738 478h1v1h-1zM739 478h1v1h-1zM740 478h1v1h-1zM741 478h1v1h-1zM742 478h1v1h-1zM743 477h1v1h-1zM744 477h1v1h-1zM745 477h1v1h-1zM746 477h1v1h-1zM747 476h1v1h-1zM748 476h1v1h-1zM749 476h1v1h-1zM750 475h1v1h-1zM751 475h1v1h-1zM752 474h1v1h-1zM753 474h1v1h-1zM754 474h1v1h-1zM755 473h1v1h-1zM756 473h1v1h-1zM757 473h1v1h-1zM758 472h1v1h-1zM759 472h1v1h-1zM760 471h1v1h-1zM761 471h1v1h-1zM762 470h1v1h-1zM763 470h1v1h-1zM764 469h1v1h-1zM765 469h1v1h-1zM766 468h1v1h-1zM767 468h1v1h-1zM768 467h1v1h-1zM769 467h1v1h-1zM770 466h1v1h-1zM771 466h1v1h-1zM772 465h1v1h-1zM773 465h1v1h-1zM774 464h1v1h-1zM775 464h1v1h-1zM776 463h1v1h-1zM777 463h1v1h-1zM778 462h1v1h-1zM779 462h1v1h-1zM780 461h1v1h-1zM781 461h1v1h-1zM782 461h1v1h-1zM783 460h1v1h-1zM784 460h1v1h-1zM785 460h1v1h-1zM786 460h1v1h-1zM787 459h1v1h-1zM788 459h1v1h-1zM789 459h1v1h-1zM790 459h1v1h-1zM791 458h1v1h-1zM792 458h1v1h-1zM793 458h1v1h-1zM794 458h1v1h-1zM795 458h1v1h-1zM796 458h1v1h-1zM797 458h1v1h-1zM798 458h1v1h-1zM799 457h1v1h-1zM800 457h1v1h-1zM801 457h1v1h-1zM802 456h1v1h-1zM803 456h1v1h-1zM804 455h1v1h-1zM805 455h1v1h-1zM806 455h1v1h-1zM807 454h1v1h-1zM808 454h1v1h-1zM809 454h1v1h-1zM810 453h1v1h-1zM811 453h1v1h-1zM812 452h1v1h-1zM813 452h1v1h-1zM814 451h1v1h-1zM815 451h1v1h-1zM816 450h1v1h-1zM817 450h1v1h-1zM818 449h1v1h-1zM819 449h1v1h-1zM820 448h1v1h-1zM821 447h1v1h-1zM822 447h1v1h-1zM823 446h1v1h-1zM824 445h1v1h-1zM825 444h1v1h-1zM826 444h1v1h-1zM827 443h1v1h-1zM828 442h1v1h-1zM829 441h1v1h-1zM830 441h1v1h-1zM831 440h1v1h-1zM832 439h1v1h-1zM833 439h1v1h-1zM834 438h1v1h-1zM835 438h1v1h-1zM836 437h1v1h-1zM837 437h1v1h-1zM838 437h1v1h-1zM839 436h1v1h-1zM840 436h1v1h-1zM841 436h1v1h-1zM842 436h1v1h-1zM843 435h1v1h-1zM844 435h1v1h-1zM845 435h1v1h-1zM846 435h1v1h-1zM847 434h1v1h-1zM848 434h1v1h-1zM849 434h1v1h-1zM850 433h1v1h-1zM851 433h1v1h-1zM852 432h1v1h-1zM853 432h1v1h-1zM854 432h1v1h-1zM855 431h1v1h-1zM856 431h1v1h-1zM857 431h1v1h-1zM858 431h1v1h-1zM859 430h1v1h-1zM860 430h1v1h-1zM861 430h1v1h-1zM862 430h1v1h-1zM863 429h1v1h-1zM864 429h1v1h-1zM865 429h1v1h-1zM866 429h1v1h-1zM867 428h1v1h-1zM868 428h1v1h-1zM869 428h1v1h-1zM870 428h1v1h-1zM871 427h1v1h-1zM872 427h1v1h-1zM873 427h1v1h-1zM874 427h1v1h-1zM875 427h1v1h-1zM876 427h1v1h-1zM877 427h1v1h-1zM878 427h1v1h-1zM879 427h1v1h-1zM880 427h1v1h-1zM881 427h1v1h-1zM882 427h1v1h-1zM883 428h1v1h-1zM884 428h1v1h-1zM885 428h1v1h-1zM886 428h1v1h-1zM887 429h1v1h-1zM888 429h1v1h-1zM889 429h1v1h-1zM890 430h1v1h-1zM891 430h1v1h-1zM892 431h1v1h-1zM893 431h1v1h-1zM894 432h1v1h-1zM895 432h1v1h-1zM896 433h1v1h-1zM897 434h1v1h-1zM898 434h1v1h-1zM899 435h1v1h-1zM900 436h1v1h-1zM901 437h1v1h-1zM902 437h1v1h-1zM903 438h1v1h-1zM904 439h1v1h-1zM905 440h1v1h-1zM906 440h1v1h-1zM907 441h1v1h-1zM908 442h1v1h-1zM909 442h1v1h-1zM910 443h1v1h-1zM911 443h1v1h-1zM912 444h1v1h-1zM913 445h1v1h-1zM914 445h1v1h-1zM915 446h1v1h-1zM916 447h1v1h-1zM917 447h1v1h-1zM918 448h1v1h-1zM919 448h1v1h-1zM920 449h1v1h-1zM921 450h1v1h-1zM922 450h1v1h-1zM923 451h1v1h-1zM924 452h1v1h-1z" fill="#ff0000" />
<line x1="5" y1="514.5" x2="1166" y2="514.5" stroke="#c0c0c0" stroke-width="1" stroke-dasharray="3 3"/>
<line x1="5" y1="543.5" x2="1166" y2="543.5" stroke="#c0c0c0" stroke-width="1" stroke-dasharray="3 3"/>
<path d="M4 534h1v1h-1zM5 534h1v1h-1zM6 534h1v1h-1zM7 533h1v1h-1zM8 533h1v1h-1zM9 533h1v1h-1zM10 533h1v1h-1zM11 532h1v1h-1zM12 531h1v2h-1zM13 529h1v2h-1zM14 527h1v2h-1zM15 525h1v2h-1zM16 524h1v1h-1zM17 524h1v1h-1zM18 523h1v1h-1zM19 523h1v1h-1zM20 522h1v1h-1zM21 522h1v1h-1zM22 523h1v1h-1zM23 523h1v1h-1zM24 524h1v1h-1zM25 524h1v1h-1zM26 524h1v1h-1zM27 524h1v1h-1zM28 524h1v1h-1zM29 524h1v1h-1zM30 524h1v1h-1zM31 523h1v1h-1zM32 523h1v1h-1zM33 524h1v1h-1zM34 524h1v1h-1zM35 525h1v1h-1zM36 526h1v1h-1zM37 525h1v1h-1zM38 525h1v1h-1zM39 524h1v1h-1zM40 523h1v1h-1zM41 524h1v2h-1zM42 526h1v1h-1zM43 527h1v2h-1zM44 529h1v1h-1zM45 528h1v1h-1zM46 527h1v1h-1zM47 526h1v1h-1zM48 525h1v1h-1zM49 524h1v1h-1zM50 523h1v1h-1zM51 522h1v1h-1zM52 521h1v1h-1zM53 521h1v1h-1zM54 521h1v1h-1zM55 520h1v1h-1zM56 520h1v1h-1zM57 520h1v1h-1zM58 519h1v1h-1zM59 519h1v1h-1zM60 518h1v1h-1zM61 518h1v1h-1zM62 518h1v1h-1zM63 518h1v1h-1zM64 518h1v1h-1zM65 518h1v1h-1zM66 519h1v1h-1zM67 519h1v1h-1zM68 520h1v2h-1zM69 522h1v2h-1zM70 524h1v2h-1zM71 526h1v2h-1zM72 528h1v2h-1zM73 529h1v1h-1zM74 529h1v1h-1zM75 529h1v1h-1zM76 529h1v1h-1zM77 529h1v1h-1zM78 529h1v1h-1zM79 530h1v1h-1zM80 530h1v1h-1zM81 530h1v1h-1zM82 530h1v1h-1zM83 531h1v1h-1zM84 531h1v1h-1zM85 530h1v1h-1zM86 530h1v1h-1zM87 529h1v1h-1zM88 528h1v1h-1zM89 527h1v1h-1zM90 525h1v2h-1zM91 524h1v1h-1zM92 523h1v1h-1zM93 524h1v1h-1zM94 525h1v2h-1zM95 527h1v1h-1zM96 528h1v1h-1zM97 529h1v1h-1zM98 529h1v1h-1zM99 530h1v1h-1zM100 531h1v1h-1zM101 531h1v1h-1zM102 531h1v1h-1zM103 531h1v1h-1zM104 531h1v1h-1zM105 531h1v1h-1zM106 532h1v1h-1zM107 532h1v1h-1zM108 533h1v1h-1zM109 533h1v1h-1zM110 533h1v1h-1zM111 534h1v1h-1zM112 534h1v1h-1zM113 534h1v1h-1zM114 534h1v1h-1zM115 534h1v1h-1zM116 534h1v1h-1zM117 534h1v1h-1zM118 535h1v1h-1zM119 535h1v1h-1zM120 536h1v1h-1zM121 537h1v1h-1zM122 538h1v1h-1zM123 539h1v1h-1zM124 540h1v1h-1zM125 540h1v1h-1zM126 539h1v1h-1zM127 539h1v1h-1zM128 538h1v1h-1zM129 538h1v1h-1zM130 538h1v1h-1zM131 538h1v1h-1zM132 538h1v1h-1zM133 538h1v1h-1zM134 538h1v1h-1zM135 539h1v1h-1zM136 539h1v1h-1zM137 539h1v1h-1zM138 540h1v1h-1zM139 540h1v1h-1zM140 541h1v1h-1zM141 542h1v1h-1zM142 542h1v1h-1zM143 543h1v1h-1zM144 544h1v1h-1zM145 544h1v1h-1zM146 544h1v1h-1zM147 543h1v1h-1zM148 543h1v1h-1zM149 543h1v1h-1zM150 543h1v1h-1zM151 543h1v1h-1zM152 543h1v1h-1zM153 543h1v1h-1zM154 543h1v1h-1zM155 543h1v1h-1zM156 543h1v1h-1zM157 543h1v1h-1zM158 543h1v1h-1zM159 544h1v1h-1zM160 544h1v1h-1zM161 544h1v1h-1zM162 545h1v1h-1zM163 545h1v1h-1zM164 546h1v1h-1zM165 544h1v2h-1zM166 543h1v1h-1zM167 541h1v2h-1zM168 540h1v1h-1zM169 540h1v1h-1zM170 540h1v1h-1zM171 540h1v1h-1zM172 540h1v1h-1zM173 540h1v1h-1zM174 540h1v1h-1zM175 540h1v1h-1zM176 540h1v1h-1zM177 540h1v1h-1zM178 540h1v1h-1zM179 539h1v1h-1zM180 539h1v1h-1zM181 539h1v1h-1zM182 538h1v1h-1zM183 538h1v1h-1zM184 537h1v1h-1zM185 537h1v1h-1zM186 538h1v1h-1zM187 538h1v1h-1zM188 539h1v1h-1zM189 539h1v1h-1zM190 540h1v1h-1zM191 540h1v1h-1zM192 541h1v1h-1zM193 540h1v1h-1zM194 539h1v1h-1zM195 538h1v1h-1zM196 537h1v1h-1zM197 537h1v1h-1zM198 536h1v1h-1zM199 536h1v1h-1zM200 535h1v1h-1zM201 535h1v1h-1zM202 535h1v1h-1zM203 536h1v1h-1zM204 536h1v1h-1zM205 535h1v1h-1zM206 534h1v1h-1zM207 533h1v1h-1zM208 532h1v1h-1zM209 533h1v1h-1zM210 533h1v1h-1zM211 534h1v1h-1zM212 534h1v2h-1zM213 532h1v2h-1zM214 530h1v2h-1zM215 528h1v2h-1zM216 527h1v1h-1zM217 527h1v1h-1zM218 527h1v1h-1zM219 526h1v1h-1zM220 526h1v1h-1zM221 526h1v1h-1zM222 526h1v1h-1zM223 527h1v1h-1zM224 527h1v1h-1zM225 527h1v1h-1zM226 527h1v1h-1zM227 528h1v1h-1zM228 528h1v1h-1zM229 528h1v1h-1zM230 528h1v1h-1zM231 528h1v1h-1zM232 528h1v1h-1zM233 527h1v1h-1zM234 525h1v2h-1zM235 524h1v1h-1zM236 523h1v1h-1zM237 521h1v2h-1zM238 519h1v2h-1zM239 517h1v2h-1zM240 516h1v1h-1zM241 517h1v1h-1zM242 518h1v1h-1zM243 519h1v1h-1zM244 520h1v1h-1zM245 520h1v1h-1zM246 520h1v1h-1zM247 521h1v1h-1zM248 521h1v1h-1zM249 522h1v1h-1zM250 522h1v1h-1zM251 523h1v1h-1zM252 524h1v1h-1zM253 523h1v1h-1zM254 522h1v1h-1zM255 521h1v1h-1zM256 520h1v1h-1zM257 519h1v1h-1zM258 519h1v1h-1zM259 518h1v1h-1zM260 517h1v1h-1zM261 517h1v1h-1zM262 517h1v1h-1zM263 518h1v1h-1zM264 518h1v1h-1zM265 517h1v1h-1zM266 517h1v1h-1zM267 516h1v1h-1zM268 515h1v1h-1zM269 515h1v1h-1zM270 515h1v1h-1zM271 515h1v1h-1zM272 515h1v1h-1zM273 515h1v1h-1zM274 514h1v1h-1zM275 514h1v1h-1zM276 513h1v1h-1zM277 514h1v1h-1zM278 514h1v1h-1zM279 515h1v1h-1zM280 516h1v1h-1zM281 516h1v1h-1zM282 517h1v1h-1zM283 517h1v1h-1zM284 518h1v1h-1zM285 518h1v1h-1zM286 518h1v1h-1zM287 518h1v1h-1zM288 518h1v1h-1zM289 516h1v2h-1zM290 514h1v2h-1zM291 512h1v2h-1zM292 511h1v1h-1zM293 512h1v2h-1zM294 514h1v1h-1zM295 515h1v2h-1zM296 517h1v1h-1zM297 517h1v1h-1zM298 517h1v1h-1zM299 517h1v1h-1zM300 517h1v1h-1zM301 517h1v1h-1zM302 516h1v1h-1zM303 516h1v1h-1zM304 515h1v1h-1zM305 515h1v1h-1zM306 514h1v1h-1zM307 514h1v1h-1zM308 513h1v1h-1zM309 513h1v1h-1zM310 513h1v1h-1zM311 513h1v1h-1zM312 513h1v1h-1zM313 513h1v1h-1zM314 513h1v1h-1zM315 512h1v1h-1zM316 512h1v1h-1zM317 512h1v1h-1zM318 513h1v1h-1zM319 513h1v1h-1zM320 514h1v1h-1zM321 515h1v2h-1zM322 517h1v2h-1zM323 519h1v2h-1zM324 521h1v2h-1zM325 523h1v2h-1zM326 525h1v2h-1zM327 527h1v2h-1zM328 529h1v2h-1zM329 530h1v1h-1zM330 530h1v1h-1zM331 530h1v1h-1zM332 530h1v1h-1zM333 529h1v1h-1zM334 528h1v1h-1zM335 527h1v1h-1zM336 526h1v1h-1zM337 526h1v1h-1zM338 525h1v1h-1zM339 525h1v1h-1zM340 524h1v1h-1zM341 524h1v1h-1zM342 524h1v1h-1zM343 525h1v1h-1zM344 525h1v1h-1zM345 524h1v1h-1zM346 522h1v2h-1zM347 521h1v1h-1zM348 520h1v1h-1zM349 519h1v1h-1zM350 519h1v1h-1zM351 518h1v1h-1zM352 517h1v1h-1zM353 517h1v1h-1zM354 518h1v1h-1zM355 518h1v1h-1zM356 519h1v1h-1zM357 520h1v1h-1zM358 521h1v2h-1zM359 523h1v1h-1zM360 524h1v1h-1zM361 523h1v1h-1zM362 521h1v2h-1zM363 520h1v1h-1zM364 519h1v1h-1zM365 519h1v1h-1zM366 519h1v1h-1zM367 518h1v1h-1zM368 518h1v1h-1zM369 518h1v1h-1zM370 517h1v1h-1zM371 517h1v1h-1zM372 516h1v1h-1zM373 516h1v1h-1zM374 517h1v1h-1zM375 517h1v1h-1zM376 518h1v1h-1zM377 519h1v1h-1zM378 520h1v2h-1zM379 522h1v1h-1zM380 523h1v1h-1zM381 523h1v1h-1zM382 524h1v1h-1zM383 524h1v1h-1zM384 525h1v1h-1zM385 525h1v1h-1zM386 525h1v1h-1zM387 526h1v1h-1zM388 526h1v1h-1zM389 526h1v1h-1zM390 526h1v1h-1zM391 526h1v1h-1zM392 526h1v1h-1zM393 526h1v1h-1zM394 527h1v1h-1zM395 527h1v1h-1zM396 528h1v1h-1zM397 528h1v1h-1zM398 527h1v1h-1zM399 527h1v1h-1zM400 526h1v1h-1zM401 526h1v1h-1zM402 527h1v1h-1zM403 527h1v1h-1zM404 528h1v1h-1zM405 529h1v1h-1zM406 529h1v1h-1zM407 530h1v1h-1zM408 531h1v1h-1zM409 532h1v2h-1zM410 534h1v1h-1zM411 535h1v2h-1zM412 537h1v1h-1zM413 537h1v1h-1zM414 537h1v1h-1zM415 536h1v1h-1zM416 536h1v1h-1zM417 534h1v2h-1zM418 532h1v2h-1zM419 530h1v2h-1zM420 529h1v1h-1zM421 530h1v1h-1zM422 530h1v1h-1zM423 531h1v1h-1zM424 532h1v1h-1zM425 531h1v1h-1zM426 531h1v1h-1zM427 530h1v1h-1zM428 529h1v1h-1zM429 529h1v1h-1zM430 529h1v1h-1zM431 530h1v1h-1zM432 530h1v1h-1zM433 531h1v1h-1zM434 532h1v2h-1zM435 534h1v1h-1zM436 535h1v1h-1zM437 535h1v1h-1zM438 535h1v1h-1zM439 534h1v1h-1zM440 534h1v1h-1zM441 534h1v1h-1zM442 534h1v1h-1zM443 533h1v1h-1zM444 533h1v1h-1zM445 534h1v1h-1zM446 535h1v1h-1zM447 536h1v1h-1zM448 537h1v1h-1zM449 538h1v1h-1zM450 539h1v1h-1zM451 540h1v1h-1zM452 541h1v1h-1zM453 541h1v1h-1zM454 541h1v1h-1zM455 540h1v1h-1zM456 540h1v1h-1zM457 539h1v1h-1zM458 538h1v1h-1zM459 537h1v1h-1zM460 536h1v1h-1zM461 536h1v1h-1zM462 536h1v1h-1zM463 537h1v1h-1zM464 537h1v1h-1zM465 537h1v1h-1zM466 537h1v1h-1zM467 538h1v1h-1zM468 538h1v1h-1zM469 538h1v1h-1zM470 538h1v1h-1zM471 539h1v1h-1zM472 539h1v1h-1zM473 539h1v1h-1zM474 539h1v1h-1zM475 538h1v1h-1zM476 538h1v1h-1zM477 538h1v1h-1zM478 538h1v1h-1zM479 539h1v1h-1zM480 539h1v1h-1zM481 537h1v2h-1zM482 535h1v2h-1zM483 533h1v2h-1zM484 532h1v1h-1zM485 532h1v1h-1zM486 532h1v1h-1zM487 533h1v1h-1zM488 533h1v1h-1zM489 532h1v1h-1zM490 530h1v2h-1zM491 529h1v1h-1zM492 528h1v1h-1zM493 528h1v1h-1zM494 528h1v1h-1zM495 529h1v1h-1zM496 529h1v1h-1zM497 528h1v1h-1zM498 528h1v1h-1zM499 527h1v1h-1zM500 526h1v1h-1zM501 525h1v1h-1zM502 523h1v2h-1zM503 522h1v1h-1zM504 521h1v1h-1zM505 521h1v1h-1zM506 520h1v1h-1zM507 520h1v1h-1zM508 519h1v1h-1zM509 519h1v1h-1zM510 520h1v1h-1zM511 520h1v1h-1zM512 521h1v1h-1zM513 522h1v1h-1zM514 522h1v1h-1zM515 523h1v1h-1zM516 524h1v1h-1zM517 524h1v1h-1zM518 525h1v1h-1zM519 525h1v1h-1zM520 526h1v1h-1zM521 526h1v1h-1zM522 526h1v1h-1zM523 526h1v1h-1zM524 526h1v1h-1zM525 526h1v1h-1zM526 526h1v1h-1zM527 527h1v1h-1zM528 527h1v1h-1zM529 526h1v1h-1zM530 524h1v2h-1zM531 523h1v1h-1zM532 522h1v1h-1zM533 522h1v1h-1zM534 522h1v1h-1zM535 523h1v1h-1zM536 523h1v1h-1zM537 524h1v2h-1zM538 526h1v1h-1zM539 527h1v2h-1zM540 529h1v1h-1zM541 528h1v1h-1zM542 528h1v1h-1zM543 527h1v1h-1zM544 526h1v1h-1zM545 526h1v1h-1zM546 527h1v1h-1zM547 527h1v1h-1zM548 528h1v1h-1zM549 527h1v1h-1zM550 527h1v1h-1zM551 526h1v1h-1zM552 525h1v1h-1zM553 525h1v1h-1zM554 525h1v1h-1zM555 524h1v1h-1zM556 524h1v1h-1zM557 524h1v1h-1zM558 525h1v1h-1zM559 525h1v1h-1zM560 526h1v1h-1zM561 526h1v1h-1zM562 526h1v1h-1zM563 525h1v1h-1zM564 525h1v1h-1zM565 525h1v1h-1zM566 525h1v1h-1zM567 526h1v1h-1zM568 526h1v1h-1zM569 526h1v1h-1zM570 527h1v1h-1zM571 527h1v1h-1zM572 528h1v1h-1zM573 528h1v1h-1zM574 528h1v1h-1zM575 527h1v1h-1zM576 527h1v1h-1zM577 526h1v1h-1zM578 526h1v1h-1zM579 525h1v1h-1zM580 524h1v1h-1zM581 524h1v1h-1zM582 524h1v1h-1zM583 523h1v1h-1zM584 523h1v1h-1zM585 523h1v1h-1zM586 523h1v1h-1zM587 523h1v1h-1zM588 523h1v1h-1zM589 523h1v1h-1zM590 523h1v1h-1zM591 522h1v1h-1zM592 522h1v1h-1zM593 523h1v1h-1zM594 524h1v1h-1zM595 525h1v1h-1zM596 526h1v1h-1zM597 524h1v2h-1zM598 523h1v1h-1zM599 521h1v2h-1zM600 520h1v2h-1zM601 522h1v2h-1zM602 524h1v2h-1zM603 526h1v2h-1zM604 528h1v2h-1zM605 528h1v1h-1zM606 528h1v1h-1zM607 527h1v1h-1zM608 526h1v1h-1zM609 527h1v2h-1zM610 529h1v1h-1zM611 530h1v2h-1zM612 532h1v1h-1zM613 531h1v1h-1zM614 530h1v1h-1zM615 529h1v1h-1zM616 528h1v1h-1zM617 529h1v1h-1zM618 530h1v2h-1zM619 532h1v1h-1zM620 533h1v1h-1zM621 533h1v1h-1zM622 532h1v1h-1zM623 532h1v1h-1zM624 531h1v1h-1zM625 530h1v1h-1zM626 529h1v1h-1zM627 528h1v1h-1zM628 527h1v1h-1zM629 527h1v1h-1zM630 527h1v1h-1zM631 528h1v1h-1zM632 528h1v1h-1zM633 527h1v1h-1zM634 526h1v1h-1zM635 525h1v1h-1zM636 524h1v1h-1zM637 523h1v1h-1zM638 521h1v2h-1zM639 520h1v1h-1zM640 519h1v1h-1zM641 520h1v2h-1zM642 522h1v1h-1zM643 523h1v2h-1zM644 525h1v1h-1zM645 525h1v1h-1zM646 526h1v1h-1zM647 526h1v1h-1zM648 527h1v1h-1zM649 527h1v1h-1zM650 528h1v1h-1zM651 528h1v1h-1zM652 529h1v1h-1zM653 529h1v1h-1zM654 529h1v1h-1zM655 529h1v1h-1zM656 529h1v1h-1zM657 528h1v1h-1zM658 526h1v2h-1zM659 525h1v1h-1zM660 524h1v1h-1zM661 525h1v1h-1zM662 525h1v1h-1zM663 526h1v1h-1zM664 527h1v1h-1zM665 528h1v1h-1zM666 529h1v1h-1zM667 530h1v1h-1zM668 531h1v1h-1zM669 532h1v1h-1zM670 532h1v1h-1zM671 533h1v1h-1zM672 534h1v1h-1zM673 534h1v1h-1zM674 534h1v1h-1zM675 535h1v1h-1zM676 535h1v1h-1zM677 535h1v1h-1zM678 535h1v1h-1zM679 535h1v1h-1zM680 535h1v1h-1zM681 535h1v1h-1zM682 535h1v1h-1zM683 536h1v1h-1zM684 536h1v1h-1zM685 536h1v1h-1zM686 536h1v1h-1zM687 536h1v1h-1zM688 536h1v1h-1zM689 536h1v1h-1zM690 536h1v1h-1zM691 537h1v1h-1zM692 537h1v1h-1zM693 537h1v1h-1zM694 538h1v1h-1zM695 538h1v1h-1zM696 539h1v1h-1zM697 539h1v1h-1zM698 540h1v1h-1zM699 540h1v1h-1zM700 541h1v1h-1zM701 541h1v1h-1zM702 541h1v1h-1zM703 540h1v1h-1zM704 540h1v1h-1zM705 539h1v1h-1zM706 539h1v1h-1zM707 538h1v1h-1zM708 537h1v1h-1zM709 537h1v1h-1zM710 537h1v1h-1zM711 538h1v1h-1zM712 538h1v1h-1zM713 538h1v1h-1zM714 538h1v1h-1zM715 539h1v1h-1zM716 539h1v1h-1zM717 539h1v1h-1zM718 538h1v1h-1zM719 538h1v1h-1zM720 537h1v1h-1zM721 537h1v1h-1zM722 537h1v1h-1zM723 536h1v1h-1zM724 536h1v1h-1zM725 536h1v1h-1zM726 536h1v1h-1zM727 535h1v1h-1zM728 535h1v1h-1zM729 535h1v1h-1zM730 536h1v1h-1zM731 536h1v1h-1zM732 537h1v1h-1zM733 537h1v1h-1zM734 537h1v1h-1zM735 537h1v1h-1zM736 537h1v1h-1zM737 535h1v2h-1zM738 533h1v2h-1zM739 531h1v2h-1zM740 530h1v1h-1zM741 530h1v1h-1zM742 529h1v1h-1zM743 529h1v1h-1zM744 528h1v1h-1zM745 528h1v1h-1zM746 529h1v1h-1zM747 529h1v1h-1zM748 530h1v1h-1zM749 530h1v1h-1zM750 529h1v1h-1zM751 529h1v1h-1zM752 528h1v1h-1zM753 527h1v1h-1zM754 526h1v1h-1zM755 525h1v1h-1zM756 524h1v1h-1zM757 524h1v1h-1zM758 524h1v1h-1zM759 524h1v1h-1zM760 524h1v1h-1zM761 525h1v2h-1zM762 527h1v1h-1zM763 528h1v2h-1zM764 530h1v1h-1zM765 529h1v1h-1zM766 529h1v1h-1zM767 528h1v1h-1zM768 527h1v1h-1zM769 527h1v1h-1zM770 527h1v1h-1zM771 527h1v1h-1zM772 527h1v1h-1zM773 527h1v1h-1zM774 527h1v1h-1zM775 526h1v1h-1zM776 526h1v1h-1zM777 526h1v1h-1zM778 527h1v1h-1zM779 527h1v1h-1zM780 528h1v1h-1zM781 528h1v1h-1zM782 528h1v1h-1zM783 527h1v1h-1zM784 527h1v2h-1zM785 529h1v2h-1zM786 531h1v3h-1zM787 534h1v2h-1zM788 536h1v2h-1zM789 534h1v2h-1zM790 532h1v2h-1zM791 530h1v2h-1zM792 528h1v2h-1zM793 526h1v2h-1zM794 524h1v2h-1zM795 522h1v2h-1zM796 521h1v1h-1zM797 521h1v1h-1zM798 521h1v1h-1zM799 521h1v1h-1zM800 521h1v1h-1zM801 521h1v1h-1zM802 521h1v1h-1zM803 520h1v1h-1zM804 520h1v1h-1zM805 519h1v1h-1zM806 519h1v1h-1zM807 518h1v1h-1zM808 517h1v1h-1zM809 517h1v1h-1zM810 517h1v1h-1zM811 516h1v1h-1zM812 516h1v1h-1zM813 516h1v1h-1zM814 516h1v1h-1zM815 517h1v1h-1zM816 517h1v1h-1zM817 517h1v1h-1zM818 517h1v1h-1zM819 516h1v1h-1zM820 516h1v1h-1zM821 516h1v1h-1zM822 516h1v1h-1zM823 515h1v1h-1zM824 515h1v1h-1zM825 515h1v1h-1zM826 515h1v1h-1zM827 514h1v1h-1zM828 514h1v1h-1zM829 515h1v1h-1zM830 516h1v1h-1zM831 517h1v1h-1zM832 518h1v2h-1zM833 520h1v2h-1zM834 522h1v2h-1zM835 524h1v2h-1zM836 526h1v1h-1zM837 525h1v1h-1zM838 523h1v2h-1zM839 522h1v1h-1zM840 521h1v1h-1zM841 520h1v1h-1zM842 520h1v1h-1zM843 519h1v1h-1zM844 518h1v1h-1zM845 518h1v1h-1zM846 518h1v1h-1zM847 517h1v1h-1zM848 517h1v1h-1zM849 516h1v1h-1zM850 516h1v1h-1zM851 515h1v1h-1zM852 514h1v1h-1zM853 514h1v1h-1zM854 514h1v1h-1zM855 513h1v1h-1zM856 513h1v1h-1zM857 514h1v1h-1zM858 514h1v1h-1zM859 515h1v1h-1zM860 516h1v1h-1zM861 516h1v1h-1zM862 516h1v1h-1zM863 515h1v1h-1zM864 515h1v1h-1zM865 516h1v2h-1zM866 518h1v2h-1zM867 520h1v2h-1zM868 522h1v1h-1zM869 522h1v1h-1zM870 523h1v1h-1zM871 523h1v1h-1zM872 524h1v1h-1zM873 525h1v1h-1zM874 525h1v1h-1zM875 526h1v1h-1zM876 527h1v1h-1zM877 528h1v1h-1zM878 528h1v1h-1zM879 529h1v1h-1zM880 530h1v1h-1zM881 529h1v1h-1zM882 527h1v2h-1zM883 526h1v1h-1zM884 525h1v1h-1zM885 526h1v1h-1zM886 527h1v1h-1zM887 528h1v1h-1zM888 529h1v1h-1zM889 529h1v1h-1zM890 528h1v1h-1zM891 528h1v1h-1zM892 527h1v1h-1zM893 527h1v1h-1zM894 528h1v1h-1zM895 528h1v1h-1zM896 529h1v1h-1zM897 529h1v1h-1zM898 530h1v1h-1zM899 530h1v1h-1zM900 531h1v1h-1zM901 531h1v1h-1zM902 530h1v1h-1zM903 530h1v1h-1zM904 529h1v1h-1zM905 529h1v1h-1zM906 529h1v1h-1zM907 529h1v1h-1zM908 529h1v1h-1zM909 530h1v1h-1zM910 530h1v1h-1zM911 531h1v1h-1zM912 532h1v1h-1zM913 532h1v1h-1zM914 533h1v1h-1zM915 533h1v1h-1zM916 534h1v1h-1zM917 534h1v1h-1zM918 534h1v1h-1zM919 534h1v1h-1zM920 534h1v1h-1zM921 535h1v1h-1zM922 536h1v1h-1zM923 537h1v1h-1zM924 538h1v1h-1z" fill="#1e90ff" />
<path d="M3 24h1164v1h-1164zM3 24h1v542h-1zM1166 24h1v542h-1zM3 415h1164v1h-1164zM3 417h1164v1h-1164zM3 489h1164v1h-1164zM3 491h1164v1h-1164zM3 565h1164v1h-1164z" fill="#000"/>
<rect x="1" y="416" width="1206" height="1" fill="#fff"/><rect x="1" y="490" width="1206" height="1" fill="#fff"/>
<path d="M1167 49h2v1h-2zM1167 82h2v1h-2zM1167 115h2v1h-2zM1167 148h2v1h-2zM1167 181h2v1h-2zM1167 214h2v1h-2zM1167 247h2v1h-2zM1167 280h2v1h-2zM1167 313h2v1h-2zM1167 346h2v1h-2zM1167 379h2v1h-2zM1167 412h2v1h-2zM1167 419h1v1h-1zM1167 456h1v1h-1zM1167 488h1v1h-1zM1167 493h1v1h-1zM1167 514h1v1h-1zM1167 543h1v1h-1zM1167 564h1v1h-1zM4 566h1v3h-1zM68 566h1v3h-1zM132 566h1v3h-1zM196 566h1v3h-1zM260 566h1v3h-1zM324 566h1v3h-1zM388 566h1v3h-1zM452 566h1v3h-1zM516 566h1v3h-1zM580 566h1v3h-1zM644 566h1v3h-1zM708 566h1v3h-1zM772 566h1v3h-1zM836 566h1v3h-1zM900 566h1v3h-1z" fill="#000"/>
<rect x="1168" y="57" width="39" height="11" fill="#ff0000"/>
<rect x="1168" y="122" width="39" height="11" fill="#ff0000"/>
<rect x="1168" y="186" width="39" height="11" fill="#00ff00"/>
<rect x="1168" y="230" width="39" height="11" fill="#000000"/>
<rect x="1168" y="242" width="39" height="11" fill="#0000ff"/>
<rect x="1168" y="311" width="39" height="11" fill="#0000ff"/>
<rect x="1168" y="384" width="39" height="11" fill="#0000ff"/>
</svg>
<div class="t" style="left:19.13px;top:28px;letter-spacing:-0.181px;">USDCAD-,Daily</div>
<div class="t" style="left:93.84px;top:28px;letter-spacing:-0.391px;">1.27254 1.27254 1.26496 1.26586</div>
<svg style="position:absolute;left:7px;top:31px" width="7" height="4" shape-rendering="crispEdges"><path d="M0 0h7v1h-7zM1 1h5v1h-5zM2 2h3v1h-3zM3 3h1v1h-1z" fill="#000"/></svg>
<div class="t" style="left:7.98px;top:422px;letter-spacing:-0.354px;">MACD(12,26,9) -0.001875 0.001220</div>
<div class="t" style="left:7.98px;top:496px;letter-spacing:-0.376px;">RSI(14) 37.2891</div>
<div class="t" style="left:1172.04px;top:45px;letter-spacing:-0.466px;">1.30630</div>
<div class="t" style="left:1172.04px;top:78px;letter-spacing:-0.466px;">1.29910</div>
<div class="t" style="left:1172.04px;top:111px;letter-spacing:-0.466px;">1.29190</div>
<div class="t" style="left:1172.04px;top:144px;letter-spacing:-0.466px;">1.28470</div>
<div class="t" style="left:1172.04px;top:177px;letter-spacing:-0.466px;">1.27750</div>
<div class="t" style="left:1172.04px;top:210px;letter-spacing:-0.466px;">1.27030</div>
<div class="t" style="left:1172.04px;top:276px;letter-spacing:-0.466px;">1.25610</div>
<div class="t" style="left:1172.04px;top:309px;letter-spacing:-0.466px;">1.24890</div>
<div class="t" style="left:1172.04px;top:342px;letter-spacing:-0.466px;">1.24170</div>
<div class="t" style="left:1172.04px;top:375px;letter-spacing:-0.466px;">1.23450</div>
<div class="t" style="left:1172.04px;top:408px;letter-spacing:-0.466px;">1.22730</div>
<div class="t w" style="left:1172.04px;top:58px;letter-spacing:-0.459px;">1.30328</div>
<div class="t w" style="left:1172.04px;top:123px;letter-spacing:-0.447px;">1.28912</div>
<div class="t w" style="left:1172.04px;top:187px;letter-spacing:-0.461px;">1.27515</div>
<div class="t w" style="left:1172.04px;top:231px;letter-spacing:-0.458px;">1.26586</div>
<div class="t w" style="left:1172.04px;top:243px;letter-spacing:-0.458px;">1.26303</div>
<div class="t w" style="left:1172.04px;top:312px;letter-spacing:-0.466px;">1.24800</div>
<div class="t w" style="left:1172.04px;top:385px;letter-spacing:-0.458px;">1.23203</div>
<div class="t" style="left:1170.11px;top:420px;letter-spacing:-0.583px;">0.010578</div>
<div class="t" style="left:1170.11px;top:452px;letter-spacing:-0.427px;">0.00</div>
<div class="t" style="left:1170.16px;top:478px;letter-spacing:-0.556px;">-0.00896</div>
<div class="t" style="left:1170.04px;top:494px;letter-spacing:-0.666px;">100</div>
<div class="t" style="left:1169.09px;top:510px;letter-spacing:-1.020px;">70</div>
<div class="t" style="left:1169.22px;top:539px;letter-spacing:-1.152px;">30</div>
<div class="t" style="left:1170.21px;top:554px;letter-spacing:0.000px;">0</div>
<div class="t" style="left:2.70px;top:570px;letter-spacing:-0.463px;">3 Sep 2021</div>
<div class="t" style="left:66.70px;top:570px;letter-spacing:-0.483px;">22 Sep 2021</div>
<div class="t" style="left:130.70px;top:570px;letter-spacing:-0.369px;">11 Oct 2021</div>
<div class="t" style="left:194.70px;top:570px;letter-spacing:-0.349px;">29 Oct 2021</div>
<div class="t" style="left:258.70px;top:570px;letter-spacing:-0.332px;">17 Nov 2021</div>
<div class="t" style="left:322.70px;top:570px;letter-spacing:-0.462px;">6 Dec 2021</div>
<div class="t" style="left:386.70px;top:570px;letter-spacing:-0.482px;">24 Dec 2021</div>
<div class="t" style="left:450.70px;top:570px;letter-spacing:-0.485px;">12 Jan 2022</div>
<div class="t" style="left:514.70px;top:570px;letter-spacing:-0.515px;">31 Jan 2022</div>
<div class="t" style="left:578.70px;top:570px;letter-spacing:-0.405px;">18 Feb 2022</div>
<div class="t" style="left:642.70px;top:570px;letter-spacing:-0.331px;">9 Mar 2022</div>
<div class="t" style="left:706.70px;top:570px;letter-spacing:-0.394px;">28 Mar 2022</div>
<div class="t" style="left:770.70px;top:570px;letter-spacing:-0.368px;">15 Apr 2022</div>
<div class="t" style="left:834.70px;top:570px;letter-spacing:-0.261px;">4 May 2022</div>
<div class="t" style="left:898.70px;top:570px;letter-spacing:-0.301px;">23 May 2022</div>
<div style="position:absolute;left:0;top:586px;width:1207px;height:1px;background:#e3e3e3"></div>
<div style="position:absolute;left:0;top:588px;width:1207px;height:23px;background:#f0f0f0"></div>
<div style="position:absolute;left:0;top:588px;width:1207px;height:1px;background:#000"></div>
<div style="position:absolute;left:0;top:589px;width:1207px;height:1px;background:#fff"></div>
<div style="position:absolute;left:0;top:588px;width:1px;height:19px;background:#505050"></div>
<div style="position:absolute;left:1px;top:589px;width:1px;height:18px;background:#fff"></div>
<div style="position:absolute;left:0;top:608px;width:1207px;height:1px;background:#fcfcfc"></div>
<div style="position:absolute;left:428px;top:589px;width:1px;height:18px;background:#fff"></div>
<div style="position:absolute;left:537px;top:589px;width:1px;height:18px;background:#dcdcdc"></div>
<div style="position:absolute;left:429px;top:588px;width:108px;height:19px;background:#fff;border-left:1px solid #000;border-right:1px solid #000;border-bottom:1px solid #000;box-sizing:border-box"></div>
<div class="tab" style="left:15.95px;top:591px;transform:scaleX(0.9481);transform-origin:0 0;">USDX,Weekly</div>
<div class="tab" style="left:116.11px;top:591px;transform:scaleX(0.9268);transform-origin:0 0;">EURUSD-,Daily</div>
<div class="tab" style="left:223.48px;top:591px;transform:scaleX(0.9402);transform-origin:0 0;">AUDUSD-,Daily</div>
<div class="tab" style="left:332.57px;top:591px;transform:scaleX(0.9225);transform-origin:0 0;">USDCHF-,Daily</div>
<div class="tab" style="left:440.26px;top:591px;transform:scaleX(0.9349);transform-origin:0 0;color:#000;">USDCAD-,Daily</div>
<div class="tab" style="left:549.14px;top:591px;transform:scaleX(0.9539);transform-origin:0 0;">USDCNH-,Daily</div>
<div class="tab" style="left:660.23px;top:591px;transform:scaleX(0.9415);transform-origin:0 0;">XAUUSD-,H4</div>
<div class="tab" style="left:755.51px;top:591px;transform:scaleX(0.9891);transform-origin:0 0;">UKOil-,H4</div>
<div class="tab" style="left:835.87px;top:591px;transform:scaleX(0.9660);transform-origin:0 0;">DJ30-,Weekly</div>
<div class="tab" style="left:935.52px;top:591px;transform:scaleX(0.9733);transform-origin:0 0;">UK100-,H1</div>
<div class="tab" style="left:1020.53px;top:591px;transform:scaleX(0.9677);transform-origin:0 0;">USOil-,Daily</div>
<div class="tab" style="left:1110.77px;top:591px;transform:scaleX(0.9643);transform-origin:0 0;">HK50-,H1</div>
<div class="sep" style="left:105px"></div>
<div class="sep" style="left:213px"></div>
<div class="sep" style="left:321px"></div>
<div class="sep" style="left:649px"></div>
<div class="sep" style="left:745px"></div>
<div class="sep" style="left:825px"></div>
<div class="sep" style="left:925px"></div>
<div class="sep" style="left:1009px"></div>
<div class="sep" style="left:1101px"></div>
<svg style="position:absolute;left:1180px;top:592px" width="26" height="10" shape-rendering="crispEdges"><path d="M2 4h1v2h-1zM3 3h1v4h-1zM4 2h1v6h-1z" fill="#8c8c8c"/><path d="M21 2h1v6h-1zM22 3h1v4h-1zM23 4h1v2h-1z" fill="#000"/></svg>
</body></html>
